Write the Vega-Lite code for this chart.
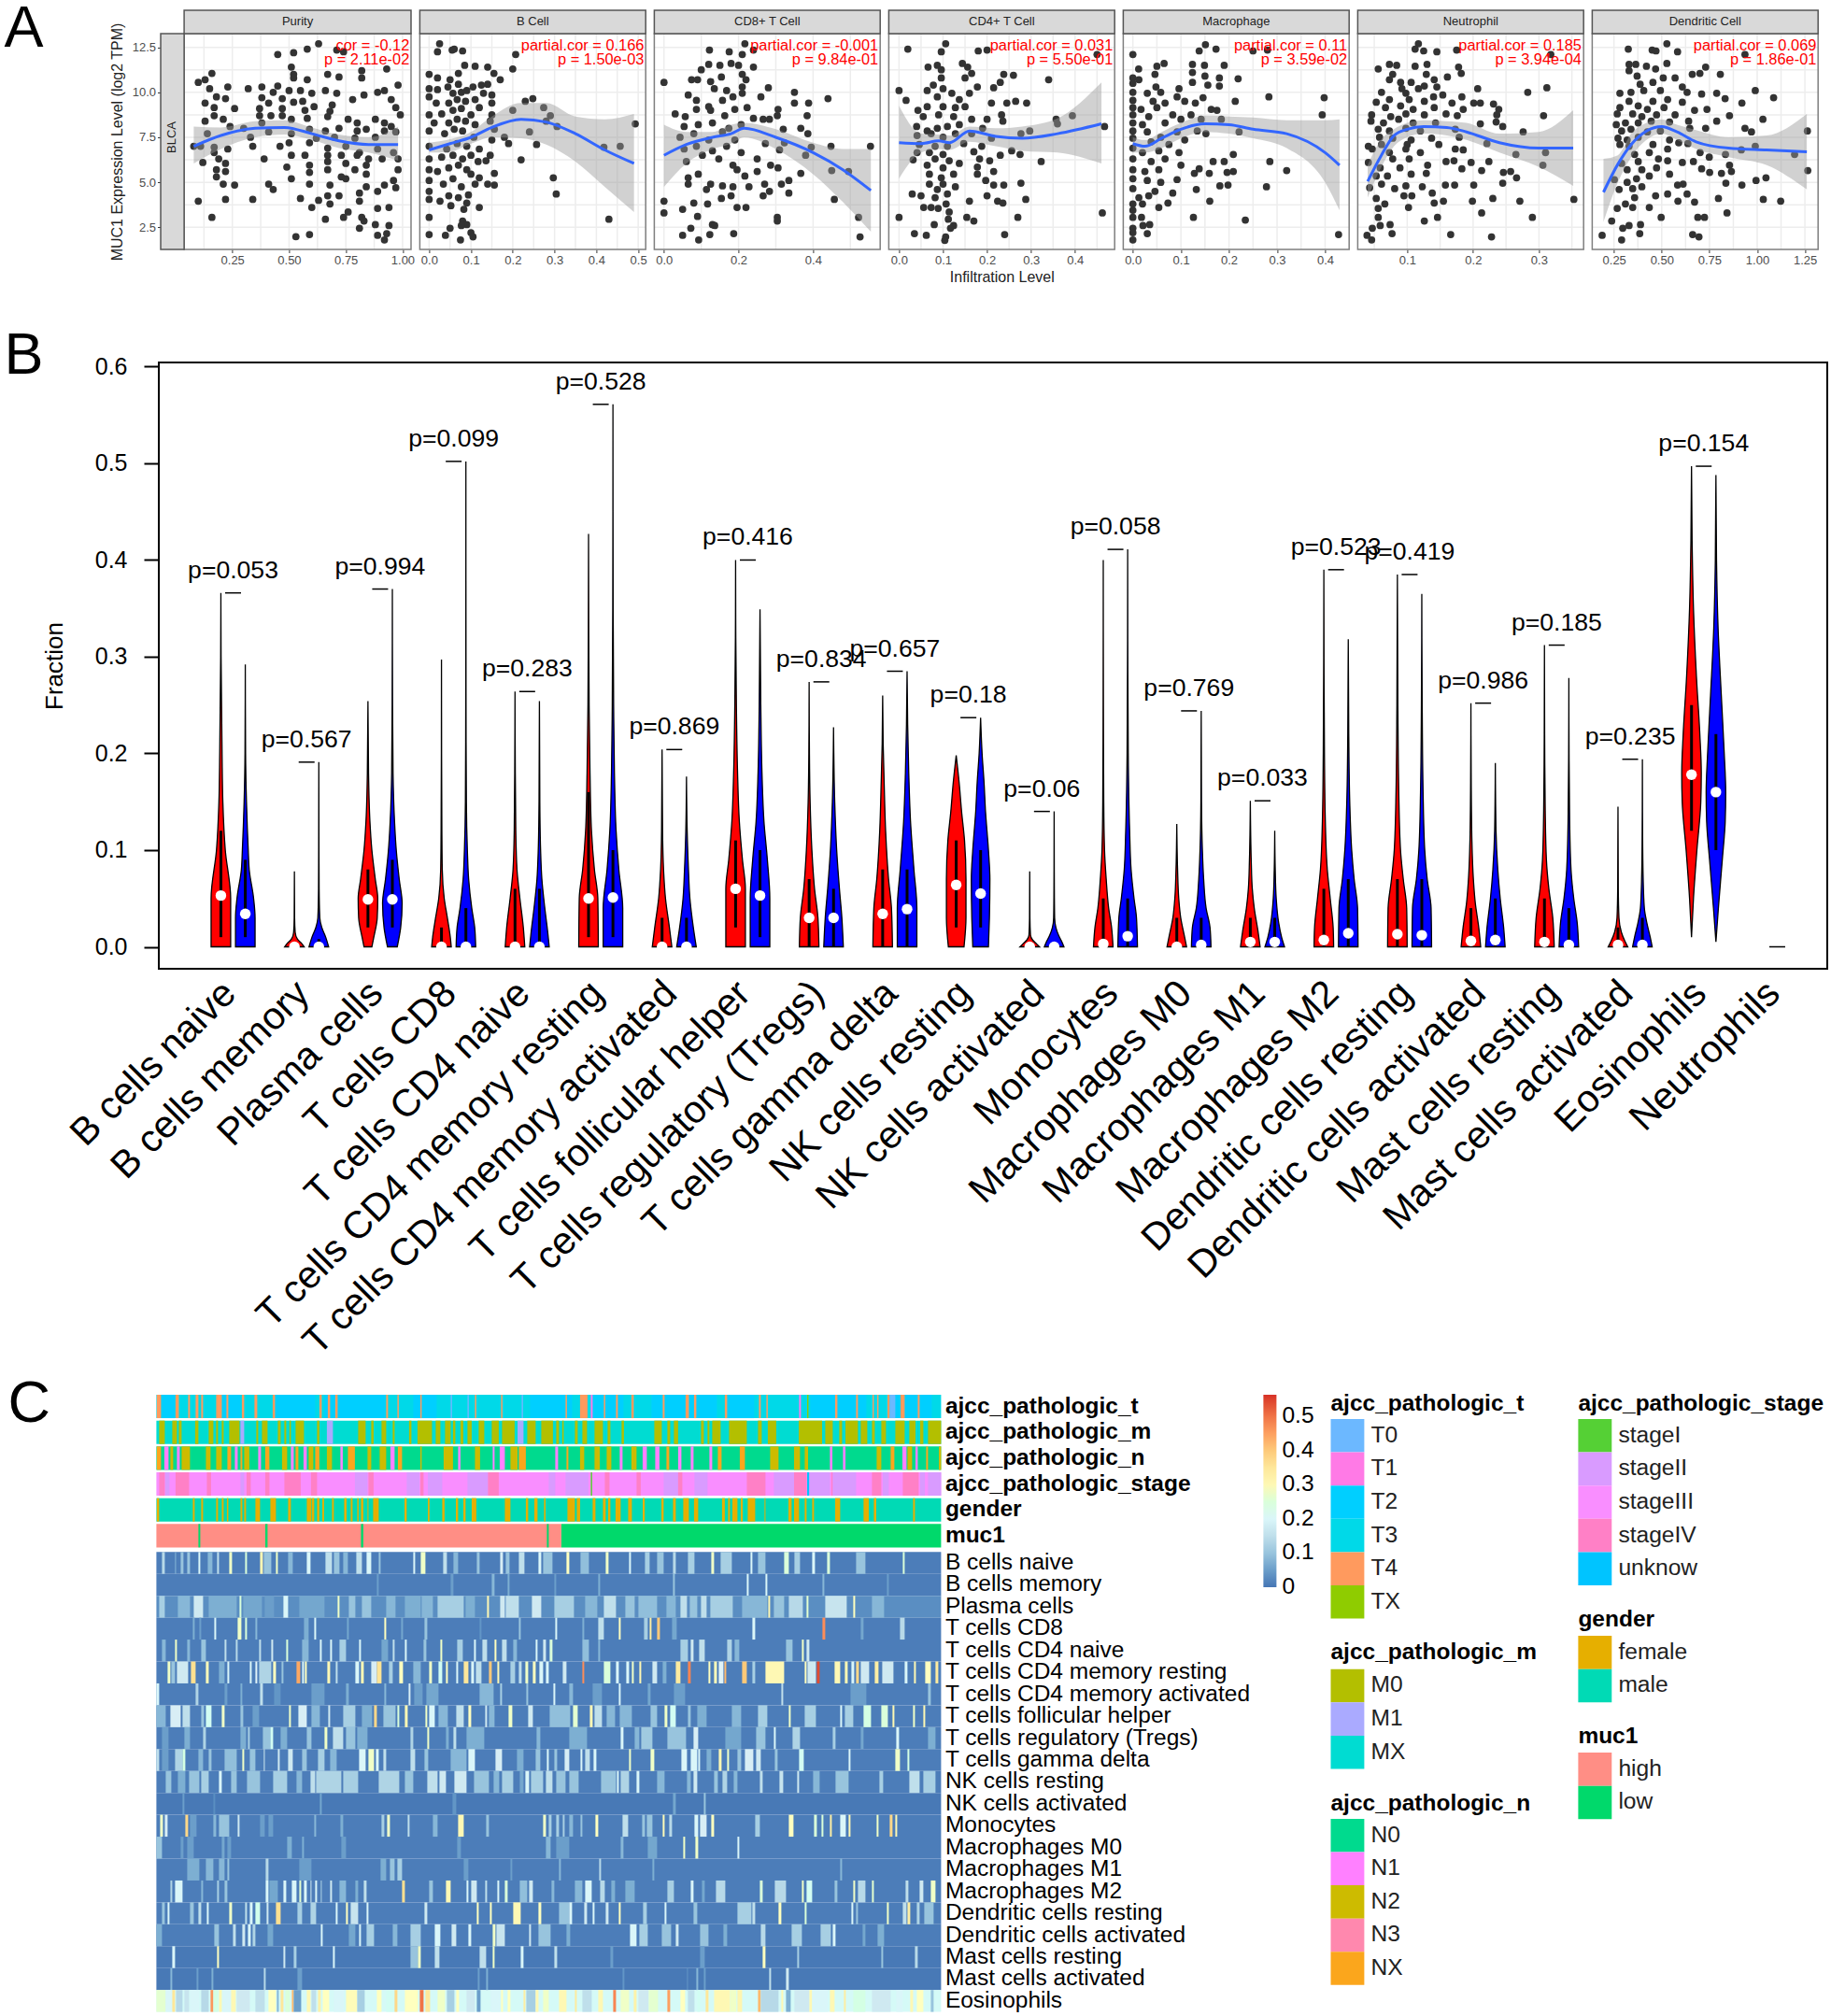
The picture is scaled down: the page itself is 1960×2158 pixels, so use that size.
{"$schema":"https://vega.github.io/schema/vega-lite/v6.json","padding":{"left":4.4,"top":0,"right":0,"bottom":0},"background":"white",
"config":{"font":"Liberation Sans","view":{"stroke":null},"axis":{"grid":false,"domain":false,"labelFontSize":13,"labelColor":"#4d4d4d","tickColor":"#333333","tickSize":3.5,"labelPadding":2,"labelOverlap":false,"labelBound":false,"labelFlush":false,"labelLimit":0,"titleFontWeight":"normal","titleColor":"#222222"},"circle":{"size":60,"color":"#333333","opacity":1}},
"datasets":{"gy":[{"y":2.5},{"y":3.75},{"y":5},{"y":6.25},{"y":7.5},{"y":8.75},{"y":10},{"y":11.25},{"y":12.5}],
"pts":[{"p":1,"x":0.63,"y":12.7},{"p":1,"x":0.58,"y":12.4},{"p":1,"x":0.52,"y":12.2},{"p":1,"x":0.45,"y":12.1},{"p":1,"x":0.71,"y":12.35},{"p":1,"x":0.74,"y":12.25},{"p":1,"x":0.51,"y":11.4},{"p":1,"x":0.52,"y":11},{"p":1,"x":0.52,"y":10.8},{"p":1,"x":0.58,"y":10.7},{"p":1,"x":0.67,"y":11},{"p":1,"x":0.72,"y":10.85},{"p":1,"x":0.82,"y":11.2},{"p":1,"x":0.82,"y":10.8},{"p":1,"x":0.93,"y":11.3},{"p":1,"x":0.98,"y":10.4},{"p":1,"x":0.16,"y":11.05},{"p":1,"x":0.1,"y":10.55},{"p":1,"x":0.13,"y":10.7},{"p":1,"x":0.23,"y":10.3},{"p":1,"x":0.32,"y":10.2},{"p":1,"x":0.38,"y":10.3},{"p":1,"x":0.45,"y":10.35},{"p":1,"x":0.55,"y":10.1},{"p":1,"x":0.15,"y":10.2},{"p":1,"x":0.43,"y":10},{"p":1,"x":0.5,"y":10.1},{"p":1,"x":0.6,"y":9.95},{"p":1,"x":0.66,"y":10.1},{"p":1,"x":0.71,"y":9.95},{"p":1,"x":0.83,"y":9.85},{"p":1,"x":0.89,"y":10},{"p":1,"x":0.92,"y":10.1},{"p":1,"x":0.18,"y":9.75},{"p":1,"x":0.22,"y":9.65},{"p":1,"x":0.13,"y":9.4},{"p":1,"x":0.38,"y":9.7},{"p":1,"x":0.41,"y":9.4},{"p":1,"x":0.47,"y":9.65},{"p":1,"x":0.52,"y":9.45},{"p":1,"x":0.56,"y":9.5},{"p":1,"x":0.61,"y":9.2},{"p":1,"x":0.69,"y":9.3},{"p":1,"x":0.78,"y":9.6},{"p":1,"x":0.95,"y":9.6},{"p":1,"x":0.97,"y":9.15},{"p":1,"x":0.17,"y":9.15},{"p":1,"x":0.26,"y":9.1},{"p":1,"x":0.37,"y":9.1},{"p":1,"x":0.47,"y":9.1},{"p":1,"x":0.57,"y":9},{"p":1,"x":0.68,"y":8.95},{"p":1,"x":0.76,"y":8.5},{"p":1,"x":0.99,"y":8.75},{"p":1,"x":0.13,"y":8.4},{"p":1,"x":0.17,"y":8.7},{"p":1,"x":0.21,"y":8.5},{"p":1,"x":0.37,"y":8.7},{"p":1,"x":0.42,"y":8.7},{"p":1,"x":0.47,"y":8.7},{"p":1,"x":0.58,"y":8.55},{"p":1,"x":0.67,"y":8.65},{"p":1,"x":0.8,"y":8.3},{"p":1,"x":0.88,"y":8.5},{"p":1,"x":0.92,"y":8.3},{"p":1,"x":0.95,"y":8.1},{"p":1,"x":0.24,"y":8.1},{"p":1,"x":0.3,"y":8},{"p":1,"x":0.38,"y":8.3},{"p":1,"x":0.51,"y":8.5},{"p":1,"x":0.59,"y":7.95},{"p":1,"x":0.66,"y":7.85},{"p":1,"x":0.72,"y":8},{"p":1,"x":0.8,"y":7.85},{"p":1,"x":0.84,"y":7.95},{"p":1,"x":0.92,"y":7.85},{"p":1,"x":0.14,"y":7.7},{"p":1,"x":0.33,"y":7.5},{"p":1,"x":0.41,"y":7.8},{"p":1,"x":0.51,"y":7.7},{"p":1,"x":0.62,"y":7.45},{"p":1,"x":0.7,"y":7.5},{"p":1,"x":0.79,"y":7.45},{"p":1,"x":0.88,"y":7.5},{"p":1,"x":0.97,"y":7.8},{"p":1,"x":0.08,"y":7},{"p":1,"x":0.11,"y":7},{"p":1,"x":0.17,"y":6.95},{"p":1,"x":0.34,"y":7},{"p":1,"x":0.46,"y":7},{"p":1,"x":0.5,"y":7.2},{"p":1,"x":0.59,"y":7.2},{"p":1,"x":0.67,"y":6.9},{"p":1,"x":0.75,"y":7},{"p":1,"x":0.81,"y":6.65},{"p":1,"x":0.89,"y":6.85},{"p":1,"x":0.96,"y":6.65},{"p":1,"x":0.17,"y":6.65},{"p":1,"x":0.23,"y":6.85},{"p":1,"x":0.51,"y":6.5},{"p":1,"x":0.57,"y":6.5},{"p":1,"x":0.67,"y":6.5},{"p":1,"x":0.73,"y":6.5},{"p":1,"x":0.8,"y":6.5},{"p":1,"x":0.85,"y":6.3},{"p":1,"x":0.91,"y":6.3},{"p":1,"x":0.98,"y":6.3},{"p":1,"x":0.12,"y":6.1},{"p":1,"x":0.19,"y":6.3},{"p":1,"x":0.22,"y":6.05},{"p":1,"x":0.39,"y":6.3},{"p":1,"x":0.49,"y":5.85},{"p":1,"x":0.59,"y":5.95},{"p":1,"x":0.67,"y":6.15},{"p":1,"x":0.75,"y":6.05},{"p":1,"x":0.84,"y":5.95},{"p":1,"x":0.98,"y":5.7},{"p":1,"x":0.18,"y":5.7},{"p":1,"x":0.22,"y":5.6},{"p":1,"x":0.59,"y":5.55},{"p":1,"x":0.67,"y":5.7},{"p":1,"x":0.73,"y":5.3},{"p":1,"x":0.79,"y":5.7},{"p":1,"x":0.84,"y":5.45},{"p":1,"x":0.96,"y":5.1},{"p":1,"x":0.18,"y":5.3},{"p":1,"x":0.51,"y":5.2},{"p":1,"x":0.59,"y":4.9},{"p":1,"x":0.68,"y":4.85},{"p":1,"x":0.75,"y":5.2},{"p":1,"x":0.21,"y":4.9},{"p":1,"x":0.26,"y":4.85},{"p":1,"x":0.41,"y":4.9},{"p":1,"x":0.43,"y":4.6},{"p":1,"x":0.84,"y":4.75},{"p":1,"x":0.92,"y":4.85},{"p":1,"x":0.97,"y":4.7},{"p":1,"x":0.81,"y":4.4},{"p":1,"x":0.89,"y":4.5},{"p":1,"x":0.72,"y":4.25},{"p":1,"x":0.67,"y":4.25},{"p":1,"x":0.55,"y":4.1},{"p":1,"x":0.22,"y":4.05},{"p":1,"x":0.34,"y":4.05},{"p":1,"x":0.1,"y":3.95},{"p":1,"x":0.63,"y":4},{"p":1,"x":0.68,"y":3.8},{"p":1,"x":0.81,"y":3.95},{"p":1,"x":0.94,"y":3.6},{"p":1,"x":0.89,"y":3.55},{"p":1,"x":0.6,"y":3.6},{"p":1,"x":0.76,"y":3.35},{"p":1,"x":0.16,"y":3.05},{"p":1,"x":0.66,"y":2.95},{"p":1,"x":0.74,"y":3.05},{"p":1,"x":0.82,"y":3.05},{"p":1,"x":0.83,"y":2.85},{"p":1,"x":0.88,"y":2.65},{"p":1,"x":0.94,"y":2.6},{"p":1,"x":0.81,"y":2.45},{"p":1,"x":0.59,"y":2.1},{"p":1,"x":0.53,"y":1.98},{"p":1,"x":0.89,"y":2.05},{"p":1,"x":0.93,"y":2.15},{"p":1,"x":0.92,"y":1.8},
{"p":2,"x":0.207,"y":12.1},{"p":2,"x":0.2,"y":11.3},{"p":2,"x":0.17,"y":10.7},{"p":2,"x":0.155,"y":11.05},{"p":2,"x":0.14,"y":11.4},{"p":2,"x":0.14,"y":10.45},{"p":2,"x":0.11,"y":11.45},{"p":2,"x":0.08,"y":12.3},{"p":2,"x":0.06,"y":12.4},{"p":2,"x":0.055,"y":12.35},{"p":2,"x":0.025,"y":12.7},{"p":2,"x":0.02,"y":12.25},{"p":2,"x":0,"y":11},{"p":2,"x":0.02,"y":10.8},{"p":2,"x":0.085,"y":11.5},{"p":2,"x":0.07,"y":11.05},{"p":2,"x":0.05,"y":10.7},{"p":2,"x":0.07,"y":10.45},{"p":2,"x":0.105,"y":10.3},{"p":2,"x":0.125,"y":10.4},{"p":2,"x":0,"y":10.2},{"p":2,"x":0.02,"y":10.15},{"p":2,"x":0.045,"y":10.3},{"p":2,"x":0.057,"y":9.95},{"p":2,"x":0.077,"y":10},{"p":2,"x":0.09,"y":10.1},{"p":2,"x":0.13,"y":9.95},{"p":2,"x":0.15,"y":9.85},{"p":2,"x":0,"y":9.75},{"p":2,"x":0.017,"y":9.4},{"p":2,"x":0.047,"y":9.4},{"p":2,"x":0.067,"y":9.6},{"p":2,"x":0.087,"y":9.5},{"p":2,"x":0.11,"y":9.6},{"p":2,"x":0.15,"y":9.4},{"p":2,"x":0.23,"y":9.5},{"p":2,"x":0.248,"y":9.65},{"p":2,"x":0.274,"y":9.15},{"p":2,"x":0.2,"y":9},{"p":2,"x":0.29,"y":8.7},{"p":2,"x":0.28,"y":8.4},{"p":2,"x":0.306,"y":8.1},{"p":2,"x":0.493,"y":8.25},{"p":2,"x":0.15,"y":8.75},{"p":2,"x":0,"y":8.75},{"p":2,"x":0.03,"y":8.8},{"p":2,"x":0.057,"y":9},{"p":2,"x":0.077,"y":9.1},{"p":2,"x":0.1,"y":8.75},{"p":2,"x":0.12,"y":9.15},{"p":2,"x":0.012,"y":8.3},{"p":2,"x":0.047,"y":8.3},{"p":2,"x":0.067,"y":8.5},{"p":2,"x":0.087,"y":8.4},{"p":2,"x":0.11,"y":8.2},{"p":2,"x":0.156,"y":7.95},{"p":2,"x":0,"y":7.85},{"p":2,"x":0.037,"y":7.7},{"p":2,"x":0.06,"y":7.95},{"p":2,"x":0.08,"y":7.85},{"p":2,"x":0.107,"y":7.5},{"p":2,"x":0.146,"y":8.4},{"p":2,"x":0.24,"y":7.8},{"p":2,"x":0.18,"y":7.5},{"p":2,"x":0.15,"y":7.35},{"p":2,"x":0.19,"y":7.15},{"p":2,"x":0.257,"y":7.1},{"p":2,"x":0.418,"y":6.95},{"p":2,"x":0.457,"y":7},{"p":2,"x":0,"y":7},{"p":2,"x":0.042,"y":6.85},{"p":2,"x":0.067,"y":7.15},{"p":2,"x":0.09,"y":7},{"p":2,"x":0.12,"y":6.85},{"p":2,"x":0,"y":6.3},{"p":2,"x":0.03,"y":6.4},{"p":2,"x":0.057,"y":6.5},{"p":2,"x":0.08,"y":6.3},{"p":2,"x":0.1,"y":6.5},{"p":2,"x":0.146,"y":6.5},{"p":2,"x":0.136,"y":6.2},{"p":2,"x":0.22,"y":6.25},{"p":2,"x":0,"y":5.7},{"p":2,"x":0.02,"y":5.6},{"p":2,"x":0.047,"y":5.8},{"p":2,"x":0.07,"y":5.95},{"p":2,"x":0.09,"y":5.7},{"p":2,"x":0.117,"y":6.15},{"p":2,"x":0.156,"y":5.5},{"p":2,"x":0.12,"y":5.25},{"p":2,"x":0.297,"y":5.25},{"p":2,"x":0,"y":5.1},{"p":2,"x":0.034,"y":4.9},{"p":2,"x":0.057,"y":5.2},{"p":2,"x":0.077,"y":4.75},{"p":2,"x":0.1,"y":5.45},{"p":2,"x":0.11,"y":4.9},{"p":2,"x":0.14,"y":4.9},{"p":2,"x":0.156,"y":4.85},{"p":2,"x":0,"y":4.5},{"p":2,"x":0,"y":4.05},{"p":2,"x":0.026,"y":3.95},{"p":2,"x":0.047,"y":4.25},{"p":2,"x":0.07,"y":4.15},{"p":2,"x":0.094,"y":4.3},{"p":2,"x":0.052,"y":3.7},{"p":2,"x":0.09,"y":3.85},{"p":2,"x":0.083,"y":3.5},{"p":2,"x":0.12,"y":3.6},{"p":2,"x":0.304,"y":4.35},{"p":2,"x":0,"y":3.05},{"p":2,"x":0.08,"y":2.85},{"p":2,"x":0.09,"y":2.65},{"p":2,"x":0.077,"y":2.6},{"p":2,"x":0.05,"y":2.45},{"p":2,"x":0.43,"y":2.95},{"p":2,"x":0,"y":2.1},{"p":2,"x":0.039,"y":2.05},{"p":2,"x":0.075,"y":1.8},{"p":2,"x":0.1,"y":2.2},{"p":2,"x":0.105,"y":1.97},
{"p":3,"x":0.217,"y":12.7},{"p":3,"x":0.122,"y":12.35},{"p":3,"x":0.175,"y":12.25},{"p":3,"x":0.24,"y":12.35},{"p":3,"x":0.21,"y":12.1},{"p":3,"x":0.1,"y":11.25},{"p":3,"x":0.12,"y":11.55},{"p":3,"x":0.15,"y":11.5},{"p":3,"x":0.18,"y":11.6},{"p":3,"x":0.2,"y":11.5},{"p":3,"x":0.24,"y":11.4},{"p":3,"x":0,"y":10.55},{"p":3,"x":0.074,"y":10.7},{"p":3,"x":0.09,"y":10.7},{"p":3,"x":0.125,"y":10.6},{"p":3,"x":0.154,"y":10.85},{"p":3,"x":0.21,"y":11},{"p":3,"x":0.22,"y":10.7},{"p":3,"x":0.135,"y":10.2},{"p":3,"x":0.168,"y":10.1},{"p":3,"x":0.21,"y":10.3},{"p":3,"x":0.28,"y":10.25},{"p":3,"x":0.35,"y":10},{"p":3,"x":0.065,"y":9.85},{"p":3,"x":0.087,"y":9.55},{"p":3,"x":0.12,"y":9.2},{"p":3,"x":0.157,"y":9.55},{"p":3,"x":0.185,"y":9.75},{"p":3,"x":0.21,"y":9.95},{"p":3,"x":0.26,"y":9.75},{"p":3,"x":0.35,"y":9.4},{"p":3,"x":0.388,"y":9.4},{"p":3,"x":0.44,"y":9.65},{"p":3,"x":0.03,"y":8.8},{"p":3,"x":0.057,"y":8.65},{"p":3,"x":0.087,"y":9.05},{"p":3,"x":0.125,"y":9},{"p":3,"x":0.163,"y":8.7},{"p":3,"x":0.19,"y":9.05},{"p":3,"x":0.223,"y":9.15},{"p":3,"x":0.24,"y":8.55},{"p":3,"x":0.306,"y":9.05},{"p":3,"x":0.304,"y":8.7},{"p":3,"x":0.384,"y":8.7},{"p":3,"x":0.266,"y":8.5},{"p":3,"x":0.283,"y":8.5},{"p":3,"x":0.054,"y":8.1},{"p":3,"x":0.092,"y":8.2},{"p":3,"x":0.13,"y":8.3},{"p":3,"x":0.174,"y":8},{"p":3,"x":0.207,"y":8.2},{"p":3,"x":0.367,"y":8},{"p":3,"x":0.32,"y":7.95},{"p":3,"x":0.386,"y":7.7},{"p":3,"x":0.043,"y":7.5},{"p":3,"x":0.08,"y":7.7},{"p":3,"x":0.12,"y":7.35},{"p":3,"x":0.157,"y":7.8},{"p":3,"x":0.19,"y":7.35},{"p":3,"x":0.272,"y":7.15},{"p":3,"x":0.323,"y":7.2},{"p":3,"x":0.448,"y":7},{"p":3,"x":0.554,"y":7},{"p":3,"x":0.395,"y":6.95},{"p":3,"x":0.054,"y":6.85},{"p":3,"x":0.087,"y":7},{"p":3,"x":0.13,"y":6.75},{"p":3,"x":0.168,"y":7},{"p":3,"x":0.207,"y":6.65},{"p":3,"x":0.31,"y":6.8},{"p":3,"x":0.38,"y":6.5},{"p":3,"x":0.06,"y":6.15},{"p":3,"x":0.103,"y":6.5},{"p":3,"x":0.147,"y":6.3},{"p":3,"x":0.185,"y":5.95},{"p":3,"x":0.25,"y":6.3},{"p":3,"x":0.286,"y":5.95},{"p":3,"x":0.306,"y":5.8},{"p":3,"x":0.45,"y":5.65},{"p":3,"x":0.495,"y":5.6},{"p":3,"x":0.065,"y":5.25},{"p":3,"x":0.092,"y":5.45},{"p":3,"x":0.125,"y":4.9},{"p":3,"x":0.157,"y":4.8},{"p":3,"x":0.196,"y":5.7},{"p":3,"x":0.217,"y":5.35},{"p":3,"x":0.25,"y":5.6},{"p":3,"x":0.367,"y":5.5},{"p":3,"x":0.065,"y":4.9},{"p":3,"x":0.114,"y":4.6},{"p":3,"x":0.185,"y":4.75},{"p":3,"x":0.228,"y":4.75},{"p":3,"x":0.27,"y":4.9},{"p":3,"x":0.315,"y":4.9},{"p":3,"x":0.335,"y":5.1},{"p":3,"x":0.335,"y":4.4},{"p":3,"x":0.266,"y":4.25},{"p":3,"x":0.283,"y":4.5},{"p":3,"x":0,"y":3.95},{"p":3,"x":0.08,"y":3.85},{"p":3,"x":0.117,"y":3.8},{"p":3,"x":0.154,"y":4.1},{"p":3,"x":0.18,"y":4.25},{"p":3,"x":0.196,"y":3.6},{"p":3,"x":0.22,"y":3.6},{"p":3,"x":0.457,"y":4.05},{"p":3,"x":0,"y":3.3},{"p":3,"x":0.05,"y":3.5},{"p":3,"x":0.09,"y":3.1},{"p":3,"x":0.304,"y":3.05},{"p":3,"x":0.304,"y":2.85},{"p":3,"x":0.522,"y":3.05},{"p":3,"x":0.13,"y":2.65},{"p":3,"x":0.136,"y":2.6},{"p":3,"x":0.072,"y":2.45},{"p":3,"x":0.05,"y":2.05},{"p":3,"x":0.123,"y":2.1},{"p":3,"x":0.187,"y":2.15},{"p":3,"x":0.093,"y":1.8},{"p":3,"x":0.526,"y":1.97},
{"p":4,"x":0.106,"y":12.7},{"p":4,"x":0.02,"y":12.4},{"p":4,"x":0.096,"y":12.25},{"p":4,"x":0.18,"y":12.3},{"p":4,"x":0.2,"y":12.35},{"p":4,"x":0.45,"y":12.1},{"p":4,"x":0.066,"y":11.4},{"p":4,"x":0.087,"y":11.5},{"p":4,"x":0.096,"y":11.25},{"p":4,"x":0.144,"y":11.6},{"p":4,"x":0.156,"y":11.4},{"p":4,"x":0.096,"y":10.8},{"p":4,"x":0.165,"y":11.05},{"p":4,"x":0.238,"y":11},{"p":4,"x":0.26,"y":10.95},{"p":4,"x":0.23,"y":10.55},{"p":4,"x":0.34,"y":10.7},{"p":4,"x":0,"y":10.1},{"p":4,"x":0.078,"y":10.4},{"p":4,"x":0.1,"y":10.2},{"p":4,"x":0.15,"y":10.8},{"p":4,"x":0.178,"y":10.3},{"p":4,"x":0.215,"y":10.25},{"p":4,"x":0.016,"y":9.55},{"p":4,"x":0.064,"y":10.1},{"p":4,"x":0.087,"y":9.75},{"p":4,"x":0.12,"y":9.95},{"p":4,"x":0.137,"y":9.6},{"p":4,"x":0.16,"y":9.95},{"p":4,"x":0.21,"y":9.4},{"p":4,"x":0.245,"y":9.4},{"p":4,"x":0.265,"y":9.5},{"p":4,"x":0.29,"y":9.4},{"p":4,"x":0.043,"y":9},{"p":4,"x":0.064,"y":9.2},{"p":4,"x":0.1,"y":9.2},{"p":4,"x":0.128,"y":9.15},{"p":4,"x":0.15,"y":9.2},{"p":4,"x":0.233,"y":8.75},{"p":4,"x":0.236,"y":8.4},{"p":4,"x":0.357,"y":8.5},{"p":4,"x":0.394,"y":8.7},{"p":4,"x":0.055,"y":8.65},{"p":4,"x":0.09,"y":8.75},{"p":4,"x":0.124,"y":8.65},{"p":4,"x":0.165,"y":8.5},{"p":4,"x":0.2,"y":8.5},{"p":4,"x":0.04,"y":8.1},{"p":4,"x":0.064,"y":7.85},{"p":4,"x":0.087,"y":8},{"p":4,"x":0.11,"y":8.1},{"p":4,"x":0.137,"y":8.2},{"p":4,"x":0.19,"y":8},{"p":4,"x":0.36,"y":8.25},{"p":4,"x":0.467,"y":8.1},{"p":4,"x":0.297,"y":7.85},{"p":4,"x":0.277,"y":7.7},{"p":4,"x":0.041,"y":7.6},{"p":4,"x":0.073,"y":7.7},{"p":4,"x":0.1,"y":7.5},{"p":4,"x":0.128,"y":7.7},{"p":4,"x":0.165,"y":7.7},{"p":4,"x":0.21,"y":7.45},{"p":4,"x":0.046,"y":7.1},{"p":4,"x":0.082,"y":7},{"p":4,"x":0.11,"y":7},{"p":4,"x":0.147,"y":7.15},{"p":4,"x":0.188,"y":7},{"p":4,"x":0.041,"y":6.65},{"p":4,"x":0.069,"y":6.65},{"p":4,"x":0.1,"y":6.55},{"p":4,"x":0.17,"y":6.7},{"p":4,"x":0.23,"y":6.5},{"p":4,"x":0.256,"y":6.75},{"p":4,"x":0.275,"y":6.55},{"p":4,"x":0.032,"y":6.25},{"p":4,"x":0.082,"y":6.3},{"p":4,"x":0.114,"y":6.2},{"p":4,"x":0.183,"y":6.3},{"p":4,"x":0.206,"y":6.2},{"p":4,"x":0.323,"y":6.15},{"p":4,"x":0.064,"y":5.95},{"p":4,"x":0.1,"y":5.8},{"p":4,"x":0.137,"y":6.05},{"p":4,"x":0.178,"y":5.85},{"p":4,"x":0.215,"y":5.6},{"p":4,"x":0.069,"y":5.45},{"p":4,"x":0.096,"y":5.25},{"p":4,"x":0.124,"y":5.45},{"p":4,"x":0.178,"y":5.45},{"p":4,"x":0.069,"y":4.9},{"p":4,"x":0.1,"y":4.9},{"p":4,"x":0.128,"y":4.75},{"p":4,"x":0.197,"y":5.1},{"p":4,"x":0.215,"y":4.85},{"p":4,"x":0.238,"y":4.85},{"p":4,"x":0.277,"y":4.95},{"p":4,"x":0.03,"y":4.35},{"p":4,"x":0.05,"y":4.25},{"p":4,"x":0.087,"y":4.6},{"p":4,"x":0.11,"y":4.35},{"p":4,"x":0.082,"y":4.15},{"p":4,"x":0.2,"y":4.25},{"p":4,"x":0.16,"y":3.95},{"p":4,"x":0.224,"y":3.95},{"p":4,"x":0.236,"y":3.85},{"p":4,"x":0.288,"y":4.05},{"p":4,"x":0.056,"y":3.6},{"p":4,"x":0.073,"y":3.6},{"p":4,"x":0.089,"y":3.55},{"p":4,"x":0.107,"y":3.8},{"p":4,"x":0.114,"y":3.35},{"p":4,"x":0,"y":3.05},{"p":4,"x":0.154,"y":3.05},{"p":4,"x":0.17,"y":2.85},{"p":4,"x":0.27,"y":3.05},{"p":4,"x":0.462,"y":3.3},{"p":4,"x":0.112,"y":2.95},{"p":4,"x":0.08,"y":2.65},{"p":4,"x":0.124,"y":2.6},{"p":4,"x":0.117,"y":2.45},{"p":4,"x":0.035,"y":2.15},{"p":4,"x":0.062,"y":2.05},{"p":4,"x":0.24,"y":2.1},{"p":4,"x":0.106,"y":1.97},{"p":4,"x":0.104,"y":1.77},
{"p":5,"x":0.151,"y":12.65},{"p":5,"x":0.138,"y":12.3},{"p":5,"x":0.173,"y":12.4},{"p":5,"x":0,"y":12.1},{"p":5,"x":0.25,"y":12.3},{"p":5,"x":0.28,"y":12.35},{"p":5,"x":0.05,"y":11.45},{"p":5,"x":0.065,"y":11.6},{"p":5,"x":0.012,"y":11.3},{"p":5,"x":0.124,"y":11.55},{"p":5,"x":0.149,"y":11.5},{"p":5,"x":0.19,"y":11.5},{"p":5,"x":0.124,"y":11.1},{"p":5,"x":0.15,"y":10.9},{"p":5,"x":0.18,"y":10.8},{"p":5,"x":0.046,"y":11},{"p":5,"x":0.219,"y":10.75},{"p":5,"x":0.124,"y":10.55},{"p":5,"x":0.156,"y":10.4},{"p":5,"x":0,"y":10.8},{"p":5,"x":0,"y":10.5},{"p":5,"x":0.0125,"y":10.7},{"p":5,"x":0.048,"y":10.3},{"p":5,"x":0.096,"y":10.2},{"p":5,"x":0.18,"y":10.35},{"p":5,"x":0,"y":10},{"p":5,"x":0.03,"y":9.95},{"p":5,"x":0.058,"y":10},{"p":5,"x":0.092,"y":9.75},{"p":5,"x":0.146,"y":9.7},{"p":5,"x":0.283,"y":9.75},{"p":5,"x":0.398,"y":9.7},{"p":5,"x":0,"y":9.55},{"p":5,"x":0.042,"y":9.5},{"p":5,"x":0.067,"y":9.4},{"p":5,"x":0.108,"y":9.5},{"p":5,"x":0.13,"y":9.4},{"p":5,"x":0.213,"y":9.5},{"p":5,"x":0,"y":9.15},{"p":5,"x":0.017,"y":9.05},{"p":5,"x":0.05,"y":9.15},{"p":5,"x":0.163,"y":9.05},{"p":5,"x":0.175,"y":9},{"p":5,"x":0.394,"y":8.75},{"p":5,"x":0,"y":8.75},{"p":5,"x":0.033,"y":8.65},{"p":5,"x":0.083,"y":8.75},{"p":5,"x":0.121,"y":8.75},{"p":5,"x":0,"y":8.3},{"p":5,"x":0.02,"y":8.2},{"p":5,"x":0.067,"y":8.3},{"p":5,"x":0.1,"y":8.5},{"p":5,"x":0.142,"y":8.5},{"p":5,"x":0.184,"y":8.5},{"p":5,"x":0,"y":7.85},{"p":5,"x":0.03,"y":7.8},{"p":5,"x":0.058,"y":7.5},{"p":5,"x":0.092,"y":7.8},{"p":5,"x":0.134,"y":7.85},{"p":5,"x":0.152,"y":7.7},{"p":5,"x":0.221,"y":7.8},{"p":5,"x":0,"y":7.45},{"p":5,"x":0.038,"y":7.25},{"p":5,"x":0.075,"y":7.1},{"p":5,"x":0.108,"y":7.35},{"p":5,"x":0,"y":6.9},{"p":5,"x":0.02,"y":6.65},{"p":5,"x":0.054,"y":6.75},{"p":5,"x":0.096,"y":6.65},{"p":5,"x":0.209,"y":6.55},{"p":5,"x":0,"y":6.3},{"p":5,"x":0.038,"y":6.15},{"p":5,"x":0.067,"y":6.3},{"p":5,"x":0.1,"y":5.95},{"p":5,"x":0.167,"y":6.15},{"p":5,"x":0.19,"y":6.15},{"p":5,"x":0.285,"y":6.15},{"p":5,"x":0.32,"y":5.65},{"p":5,"x":0,"y":5.7},{"p":5,"x":0.025,"y":5.6},{"p":5,"x":0.054,"y":5.7},{"p":5,"x":0.138,"y":5.75},{"p":5,"x":0.159,"y":5.5},{"p":5,"x":0.196,"y":5.55},{"p":5,"x":0.209,"y":5.6},{"p":5,"x":0.128,"y":5.5},{"p":5,"x":0,"y":5.2},{"p":5,"x":0.03,"y":5.1},{"p":5,"x":0.058,"y":5},{"p":5,"x":0.092,"y":5.15},{"p":5,"x":0,"y":4.65},{"p":5,"x":0.046,"y":4.5},{"p":5,"x":0.083,"y":4.4},{"p":5,"x":0.132,"y":4.6},{"p":5,"x":0.181,"y":4.8},{"p":5,"x":0.198,"y":4.85},{"p":5,"x":0.278,"y":4.75},{"p":5,"x":0.0125,"y":4.15},{"p":5,"x":0.033,"y":4.25},{"p":5,"x":0,"y":3.8},{"p":5,"x":0.02,"y":3.8},{"p":5,"x":0.054,"y":3.6},{"p":5,"x":0.073,"y":3.85},{"p":5,"x":0.16,"y":3.95},{"p":5,"x":0,"y":3.45},{"p":5,"x":0,"y":3.05},{"p":5,"x":0.018,"y":3.05},{"p":5,"x":0.126,"y":3.05},{"p":5,"x":0.234,"y":2.9},{"p":5,"x":0.021,"y":2.6},{"p":5,"x":0.035,"y":2.65},{"p":5,"x":0,"y":2.45},{"p":5,"x":0,"y":2.2},{"p":5,"x":0.03,"y":2.15},{"p":5,"x":0,"y":1.8},{"p":5,"x":0.428,"y":2.1},
{"p":6,"x":0.117,"y":12.7},{"p":6,"x":0.112,"y":12.4},{"p":6,"x":0.125,"y":12.3},{"p":6,"x":0.145,"y":12.25},{"p":6,"x":0.175,"y":12.35},{"p":6,"x":0.318,"y":12.1},{"p":6,"x":0.056,"y":11.3},{"p":6,"x":0.073,"y":11.55},{"p":6,"x":0.084,"y":11.5},{"p":6,"x":0.112,"y":11.45},{"p":6,"x":0.13,"y":11.55},{"p":6,"x":0.178,"y":11.4},{"p":6,"x":0.078,"y":11},{"p":6,"x":0.129,"y":11},{"p":6,"x":0.161,"y":10.85},{"p":6,"x":0.182,"y":11.05},{"p":6,"x":0.073,"y":10.7},{"p":6,"x":0.09,"y":10.55},{"p":6,"x":0.106,"y":10.55},{"p":6,"x":0.141,"y":10.7},{"p":6,"x":0.092,"y":10.2},{"p":6,"x":0.117,"y":10.2},{"p":6,"x":0.126,"y":10.35},{"p":6,"x":0.145,"y":10.3},{"p":6,"x":0.207,"y":10.2},{"p":6,"x":0.283,"y":10},{"p":6,"x":0.312,"y":10.25},{"p":6,"x":0.061,"y":10},{"p":6,"x":0.098,"y":9.95},{"p":6,"x":0.14,"y":9.75},{"p":6,"x":0.154,"y":9.85},{"p":6,"x":0.183,"y":9.75},{"p":6,"x":0.053,"y":9.45},{"p":6,"x":0.073,"y":9.6},{"p":6,"x":0.103,"y":9.6},{"p":6,"x":0.126,"y":9.5},{"p":6,"x":0.168,"y":9.4},{"p":6,"x":0.201,"y":9.4},{"p":6,"x":0.211,"y":9.4},{"p":6,"x":0.231,"y":9.35},{"p":6,"x":0.067,"y":9.15},{"p":6,"x":0.09,"y":9.25},{"p":6,"x":0.109,"y":9.05},{"p":6,"x":0.141,"y":9.15},{"p":6,"x":0.185,"y":9.05},{"p":6,"x":0.239,"y":9.05},{"p":6,"x":0.046,"y":8.75},{"p":6,"x":0.075,"y":8.65},{"p":6,"x":0.098,"y":8.8},{"p":6,"x":0.126,"y":8.75},{"p":6,"x":0.159,"y":8.8},{"p":6,"x":0.176,"y":8.7},{"p":6,"x":0.236,"y":8.75},{"p":6,"x":0.307,"y":8.7},{"p":6,"x":0.045,"y":8.4},{"p":6,"x":0.064,"y":8.3},{"p":6,"x":0.087,"y":8.5},{"p":6,"x":0.109,"y":8.3},{"p":6,"x":0.143,"y":8.3},{"p":6,"x":0.211,"y":8.25},{"p":6,"x":0.235,"y":8.35},{"p":6,"x":0.056,"y":7.95},{"p":6,"x":0.073,"y":7.85},{"p":6,"x":0.098,"y":8},{"p":6,"x":0.12,"y":7.85},{"p":6,"x":0.173,"y":7.95},{"p":6,"x":0.245,"y":8.1},{"p":6,"x":0.276,"y":7.8},{"p":6,"x":0.058,"y":7.5},{"p":6,"x":0.078,"y":7.45},{"p":6,"x":0.106,"y":7.35},{"p":6,"x":0.137,"y":7.45},{"p":6,"x":0.179,"y":7.5},{"p":6,"x":0.041,"y":7},{"p":6,"x":0.061,"y":7.1},{"p":6,"x":0.1,"y":7.1},{"p":6,"x":0.148,"y":7.1},{"p":6,"x":0.221,"y":7.15},{"p":6,"x":0.047,"y":6.85},{"p":6,"x":0.073,"y":6.65},{"p":6,"x":0.098,"y":6.85},{"p":6,"x":0.12,"y":6.65},{"p":6,"x":0.173,"y":6.85},{"p":6,"x":0.185,"y":6.8},{"p":6,"x":0.265,"y":6.55},{"p":6,"x":0.31,"y":6.65},{"p":6,"x":0.041,"y":6.1},{"p":6,"x":0.078,"y":6.3},{"p":6,"x":0.103,"y":6.3},{"p":6,"x":0.159,"y":6.15},{"p":6,"x":0.171,"y":6.2},{"p":6,"x":0.197,"y":6.1},{"p":6,"x":0.224,"y":6.15},{"p":6,"x":0.306,"y":5.95},{"p":6,"x":0.059,"y":5.8},{"p":6,"x":0.089,"y":5.8},{"p":6,"x":0.131,"y":5.95},{"p":6,"x":0.183,"y":5.75},{"p":6,"x":0.213,"y":5.65},{"p":6,"x":0.246,"y":5.55},{"p":6,"x":0.257,"y":5.6},{"p":6,"x":0.053,"y":5.35},{"p":6,"x":0.07,"y":5.35},{"p":6,"x":0.106,"y":5.45},{"p":6,"x":0.129,"y":5.5},{"p":6,"x":0.266,"y":5.25},{"p":6,"x":0.043,"y":4.7},{"p":6,"x":0.061,"y":4.9},{"p":6,"x":0.081,"y":4.65},{"p":6,"x":0.098,"y":4.8},{"p":6,"x":0.123,"y":4.75},{"p":6,"x":0.158,"y":4.85},{"p":6,"x":0.172,"y":4.85},{"p":6,"x":0.201,"y":4.85},{"p":6,"x":0.245,"y":4.95},{"p":6,"x":0.138,"y":4.4},{"p":6,"x":0.053,"y":4.1},{"p":6,"x":0.095,"y":4.25},{"p":6,"x":0.107,"y":4.25},{"p":6,"x":0.155,"y":3.95},{"p":6,"x":0.141,"y":3.85},{"p":6,"x":0.199,"y":3.95},{"p":6,"x":0.23,"y":4.1},{"p":6,"x":0.271,"y":3.95},{"p":6,"x":0.353,"y":4.05},{"p":6,"x":0.056,"y":3.55},{"p":6,"x":0.066,"y":3.8},{"p":6,"x":0.102,"y":3.6},{"p":6,"x":0.056,"y":3.05},{"p":6,"x":0.213,"y":3.3},{"p":6,"x":0.146,"y":3.05},{"p":6,"x":0.126,"y":2.85},{"p":6,"x":0.29,"y":3.05},{"p":6,"x":0.059,"y":2.6},{"p":6,"x":0.074,"y":2.65},{"p":6,"x":0.047,"y":2.45},{"p":6,"x":0.039,"y":2.05},{"p":6,"x":0.046,"y":1.8},{"p":6,"x":0.077,"y":2.15},{"p":6,"x":0.166,"y":2.1},{"p":6,"x":0.228,"y":1.97},
{"p":7,"x":0.527,"y":12.7},{"p":7,"x":0.325,"y":12.4},{"p":7,"x":0.45,"y":12.35},{"p":7,"x":0.47,"y":12.3},{"p":7,"x":0.583,"y":12.25},{"p":7,"x":0.936,"y":12.1},{"p":7,"x":0.329,"y":11.55},{"p":7,"x":0.364,"y":11.55},{"p":7,"x":0.42,"y":11.45},{"p":7,"x":0.468,"y":11.3},{"p":7,"x":0.527,"y":11.6},{"p":7,"x":0.73,"y":11.4},{"p":7,"x":0.329,"y":11.2},{"p":7,"x":0.371,"y":10.9},{"p":7,"x":0.66,"y":11},{"p":7,"x":0.7,"y":11.05},{"p":7,"x":0.807,"y":11},{"p":7,"x":0.508,"y":10.8},{"p":7,"x":0.57,"y":10.8},{"p":7,"x":0.387,"y":10.45},{"p":7,"x":0.454,"y":10.55},{"p":7,"x":0.608,"y":10.3},{"p":7,"x":0.281,"y":9.95},{"p":7,"x":0.339,"y":10},{"p":7,"x":0.406,"y":10.1},{"p":7,"x":0.493,"y":10.1},{"p":7,"x":0.633,"y":10},{"p":7,"x":0.709,"y":9.9},{"p":7,"x":0.788,"y":9.95},{"p":7,"x":0.99,"y":10.1},{"p":7,"x":1.086,"y":9.7},{"p":7,"x":0.832,"y":9.65},{"p":7,"x":0.329,"y":9.5},{"p":7,"x":0.377,"y":9.25},{"p":7,"x":0.454,"y":9.5},{"p":7,"x":0.531,"y":9.6},{"p":7,"x":0.608,"y":9.45},{"p":7,"x":0.92,"y":9.4},{"p":7,"x":0.737,"y":9.05},{"p":7,"x":0.281,"y":9.15},{"p":7,"x":0.425,"y":9.05},{"p":7,"x":0.512,"y":9.15},{"p":7,"x":0.672,"y":9},{"p":7,"x":0.267,"y":8.8},{"p":7,"x":0.348,"y":8.8},{"p":7,"x":0.396,"y":8.65},{"p":7,"x":0.473,"y":8.75},{"p":7,"x":0.57,"y":8.75},{"p":7,"x":0.855,"y":8.7},{"p":7,"x":0.262,"y":8.2},{"p":7,"x":0.31,"y":8.3},{"p":7,"x":0.377,"y":8.3},{"p":7,"x":0.445,"y":8.4},{"p":7,"x":0.541,"y":8.35},{"p":7,"x":0.641,"y":8.4},{"p":7,"x":0.788,"y":8.4},{"p":7,"x":1.03,"y":8.5},{"p":7,"x":0.29,"y":7.85},{"p":7,"x":0.339,"y":7.95},{"p":7,"x":0.425,"y":7.8},{"p":7,"x":0.493,"y":7.85},{"p":7,"x":0.647,"y":8},{"p":7,"x":0.73,"y":8},{"p":7,"x":0.936,"y":8},{"p":7,"x":0.97,"y":7.8},{"p":7,"x":1.263,"y":7.85},{"p":7,"x":0.271,"y":7.45},{"p":7,"x":0.319,"y":7.35},{"p":7,"x":0.377,"y":7.5},{"p":7,"x":0.541,"y":7.35},{"p":7,"x":0.589,"y":7.2},{"p":7,"x":0.637,"y":7.15},{"p":7,"x":0.281,"y":7.1},{"p":7,"x":0.329,"y":7},{"p":7,"x":0.454,"y":7.1},{"p":7,"x":0.531,"y":6.85},{"p":7,"x":0.701,"y":6.65},{"p":7,"x":0.99,"y":7},{"p":7,"x":0.917,"y":6.8},{"p":7,"x":0.834,"y":6.55},{"p":7,"x":1.196,"y":6.55},{"p":7,"x":0.358,"y":6.55},{"p":7,"x":0.435,"y":6.65},{"p":7,"x":0.483,"y":6.3},{"p":7,"x":0.749,"y":6.4},{"p":7,"x":0.29,"y":6.05},{"p":7,"x":0.377,"y":6.15},{"p":7,"x":0.531,"y":6.2},{"p":7,"x":0.666,"y":6.15},{"p":7,"x":0.608,"y":6.1},{"p":7,"x":0.855,"y":5.95},{"p":7,"x":0.709,"y":5.75},{"p":7,"x":0.319,"y":5.7},{"p":7,"x":0.396,"y":5.7},{"p":7,"x":0.473,"y":5.8},{"p":7,"x":0.751,"y":5.55},{"p":7,"x":0.865,"y":5.6},{"p":7,"x":1.265,"y":5.65},{"p":7,"x":0.813,"y":5.5},{"p":7,"x":0.252,"y":5.15},{"p":7,"x":0.319,"y":5},{"p":7,"x":0.368,"y":5.2},{"p":7,"x":0.435,"y":5.35},{"p":7,"x":0.541,"y":5.45},{"p":7,"x":1.046,"y":5.25},{"p":7,"x":0.994,"y":5.1},{"p":7,"x":0.836,"y":4.95},{"p":7,"x":0.92,"y":4.85},{"p":7,"x":0.583,"y":4.85},{"p":7,"x":0.612,"y":4.9},{"p":7,"x":0.277,"y":4.6},{"p":7,"x":0.348,"y":4.65},{"p":7,"x":0.396,"y":4.75},{"p":7,"x":0.531,"y":4.35},{"p":7,"x":0.468,"y":4.25},{"p":7,"x":0.633,"y":4.35},{"p":7,"x":0.358,"y":4.15},{"p":7,"x":0.585,"y":3.95},{"p":7,"x":0.672,"y":3.9},{"p":7,"x":0.797,"y":4.1},{"p":7,"x":1.032,"y":4.05},{"p":7,"x":1.123,"y":3.95},{"p":7,"x":0.31,"y":3.8},{"p":7,"x":0.267,"y":3.55},{"p":7,"x":0.348,"y":3.6},{"p":7,"x":0.435,"y":3.6},{"p":7,"x":0.842,"y":3.3},{"p":7,"x":0.497,"y":3.05},{"p":7,"x":0.689,"y":3.05},{"p":7,"x":0.724,"y":3.05},{"p":7,"x":0.238,"y":2.85},{"p":7,"x":0.389,"y":2.65},{"p":7,"x":0.329,"y":2.6},{"p":7,"x":0.296,"y":2.45},{"p":7,"x":0.385,"y":2.15},{"p":7,"x":0.662,"y":2.1},{"p":7,"x":0.695,"y":1.97},{"p":7,"x":0.188,"y":2.05},{"p":7,"x":0.29,"y":1.8}],
"sm":[{"p":1,"x":0.08,"y":7,"lo":6.05,"hi":8.1},{"p":1,"x":0.2,"y":7.6,"lo":6.85,"hi":8.05},{"p":1,"x":0.35,"y":8,"lo":7.5,"hi":8.4},{"p":1,"x":0.48,"y":8.05,"lo":7.65,"hi":8.45},{"p":1,"x":0.6,"y":7.7,"lo":7.35,"hi":8.05},{"p":1,"x":0.72,"y":7.3,"lo":6.9,"hi":7.65},{"p":1,"x":0.85,"y":7.1,"lo":6.65,"hi":7.5},{"p":1,"x":0.98,"y":7.1,"lo":6.2,"hi":8.1},
{"p":2,"x":0,"y":6.8,"lo":6.65,"hi":7.2},{"p":2,"x":0.05,"y":7.15,"lo":6.7,"hi":7.4},{"p":2,"x":0.1,"y":7.5,"lo":7.15,"hi":7.8},{"p":2,"x":0.15,"y":8.05,"lo":7.5,"hi":8.65},{"p":2,"x":0.22,"y":8.5,"lo":7.45,"hi":9.4},{"p":2,"x":0.28,"y":8.35,"lo":7.1,"hi":9.4},{"p":2,"x":0.35,"y":7.7,"lo":6.15,"hi":8.65},{"p":2,"x":0.42,"y":6.8,"lo":4.75,"hi":8.5},{"p":2,"x":0.49,"y":6.05,"lo":3.35,"hi":8.8},
{"p":3,"x":0,"y":6.5,"lo":4.75,"hi":8.2},{"p":3,"x":0.06,"y":7.1,"lo":6.05,"hi":7.8},{"p":3,"x":0.13,"y":7.5,"lo":6.85,"hi":7.8},{"p":3,"x":0.18,"y":7.7,"lo":7.15,"hi":8.2},{"p":3,"x":0.215,"y":8,"lo":7.5,"hi":8.3},{"p":3,"x":0.3,"y":7.5,"lo":6.85,"hi":7.95},{"p":3,"x":0.4,"y":6.65,"lo":5.45,"hi":7.2},{"p":3,"x":0.48,"y":5.7,"lo":3.9,"hi":6.85},{"p":3,"x":0.555,"y":4.55,"lo":2.25,"hi":6.85},
{"p":4,"x":0,"y":7.2,"lo":5.2,"hi":9.25},{"p":4,"x":0.05,"y":7.15,"lo":6.65,"hi":7.7},{"p":4,"x":0.09,"y":7.3,"lo":6.85,"hi":7.65},{"p":4,"x":0.115,"y":7.2,"lo":6.8,"hi":7.6},{"p":4,"x":0.16,"y":7.85,"lo":7.25,"hi":8.1},{"p":4,"x":0.22,"y":7.55,"lo":7,"hi":8},{"p":4,"x":0.28,"y":7.45,"lo":6.75,"hi":8.1},{"p":4,"x":0.36,"y":7.7,"lo":6.65,"hi":8.55},{"p":4,"x":0.46,"y":8.25,"lo":6.05,"hi":10.55},
{"p":5,"x":0,"y":7.15,"lo":6.65,"hi":7.5},{"p":5,"x":0.025,"y":7,"lo":6.65,"hi":7.35},{"p":5,"x":0.06,"y":7.45,"lo":6.9,"hi":7.8},{"p":5,"x":0.1,"y":7.95,"lo":7.45,"hi":8.3},{"p":5,"x":0.15,"y":8.25,"lo":7.8,"hi":8.7},{"p":5,"x":0.2,"y":8.2,"lo":7.7,"hi":8.65},{"p":5,"x":0.25,"y":7.95,"lo":7.45,"hi":8.6},{"p":5,"x":0.32,"y":7.7,"lo":6.9,"hi":8.45},{"p":5,"x":0.4,"y":6.65,"lo":5,"hi":8.45},{"p":5,"x":0.43,"y":5.95,"lo":3.45,"hi":8.5},
{"p":6,"x":0.04,"y":5.05,"lo":4.15,"hi":5.95},{"p":6,"x":0.06,"y":6.45,"lo":5.8,"hi":7.35},{"p":6,"x":0.08,"y":7.6,"lo":7,"hi":7.95},{"p":6,"x":0.1,"y":7.95,"lo":7.5,"hi":8.3},{"p":6,"x":0.125,"y":8.1,"lo":7.7,"hi":8.45},{"p":6,"x":0.16,"y":8.05,"lo":7.6,"hi":8.4},{"p":6,"x":0.19,"y":7.8,"lo":7.35,"hi":8.3},{"p":6,"x":0.24,"y":7.2,"lo":6.65,"hi":7.7},{"p":6,"x":0.3,"y":6.9,"lo":5.85,"hi":7.8},{"p":6,"x":0.352,"y":6.9,"lo":4.8,"hi":9},
{"p":7,"x":0.195,"y":4.45,"lo":2.8,"hi":6.3},{"p":7,"x":0.27,"y":6,"lo":5,"hi":6.5},{"p":7,"x":0.34,"y":7.1,"lo":6.4,"hi":7.7},{"p":7,"x":0.42,"y":7.85,"lo":7.35,"hi":8.3},{"p":7,"x":0.5,"y":8.1,"lo":7.7,"hi":8.5},{"p":7,"x":0.58,"y":7.8,"lo":7.35,"hi":8.2},{"p":7,"x":0.68,"y":7.25,"lo":6.85,"hi":7.9},{"p":7,"x":0.85,"y":6.9,"lo":6.4,"hi":7.5},{"p":7,"x":1.05,"y":6.8,"lo":5.95,"hi":7.6},{"p":7,"x":1.26,"y":6.7,"lo":4.6,"hi":8.8}],
"vio":[{"c":1,"g":"h","f":0,"w":1},{"c":1,"g":"h","f":0.05,"w":1},{"c":1,"g":"h","f":0.1,"w":0.45},{"c":1,"g":"h","f":0.15,"w":0.2},{"c":1,"g":"h","f":0.2,"w":0.12},{"c":1,"g":"h","f":0.3,"w":0.02},{"c":1,"g":"h","f":0.366,"w":0},{"c":1,"g":"l","f":0,"w":1},{"c":1,"g":"l","f":0.03,"w":1},{"c":1,"g":"l","f":0.05,"w":0.85},{"c":1,"g":"l","f":0.08,"w":0.4},{"c":1,"g":"l","f":0.1,"w":0.3},{"c":1,"g":"l","f":0.15,"w":0.12},{"c":1,"g":"l","f":0.2,"w":0.03},{"c":1,"g":"l","f":0.292,"w":0},
{"c":2,"g":"h","f":0,"w":1},{"c":2,"g":"h","f":0.004,"w":0.7},{"c":2,"g":"h","f":0.008,"w":0.3},{"c":2,"g":"h","f":0.015,"w":0.08},{"c":2,"g":"h","f":0.03,"w":0.02},{"c":2,"g":"h","f":0.078,"w":0},{"c":2,"g":"l","f":0,"w":1},{"c":2,"g":"l","f":0.01,"w":0.7},{"c":2,"g":"l","f":0.02,"w":0.3},{"c":2,"g":"l","f":0.03,"w":0.1},{"c":2,"g":"l","f":0.06,"w":0.03},{"c":2,"g":"l","f":0.1,"w":0.015},{"c":2,"g":"l","f":0.191,"w":0},
{"c":3,"g":"h","f":0,"w":0.4},{"c":3,"g":"h","f":0.01,"w":0.6},{"c":3,"g":"h","f":0.03,"w":0.95},{"c":3,"g":"h","f":0.05,"w":1},{"c":3,"g":"h","f":0.07,"w":0.75},{"c":3,"g":"h","f":0.1,"w":0.4},{"c":3,"g":"h","f":0.13,"w":0.2},{"c":3,"g":"h","f":0.18,"w":0.06},{"c":3,"g":"h","f":0.254,"w":0},{"c":3,"g":"l","f":0,"w":0.5},{"c":3,"g":"l","f":0.02,"w":0.85},{"c":3,"g":"l","f":0.045,"w":1},{"c":3,"g":"l","f":0.07,"w":0.7},{"c":3,"g":"l","f":0.1,"w":0.4},{"c":3,"g":"l","f":0.13,"w":0.22},{"c":3,"g":"l","f":0.18,"w":0.07},{"c":3,"g":"l","f":0.25,"w":0.02},{"c":3,"g":"l","f":0.37,"w":0},
{"c":4,"g":"h","f":0,"w":1},{"c":4,"g":"h","f":0.01,"w":0.9},{"c":4,"g":"h","f":0.03,"w":0.6},{"c":4,"g":"h","f":0.05,"w":0.28},{"c":4,"g":"h","f":0.08,"w":0.08},{"c":4,"g":"h","f":0.12,"w":0.04},{"c":4,"g":"h","f":0.2,"w":0.01},{"c":4,"g":"h","f":0.297,"w":0},{"c":4,"g":"l","f":0,"w":1},{"c":4,"g":"l","f":0.02,"w":0.9},{"c":4,"g":"l","f":0.04,"w":0.6},{"c":4,"g":"l","f":0.07,"w":0.28},{"c":4,"g":"l","f":0.1,"w":0.15},{"c":4,"g":"l","f":0.15,"w":0.05},{"c":4,"g":"l","f":0.25,"w":0.015},{"c":4,"g":"l","f":0.502,"w":0},
{"c":5,"g":"h","f":0,"w":1},{"c":5,"g":"h","f":0.02,"w":0.85},{"c":5,"g":"h","f":0.05,"w":0.5},{"c":5,"g":"h","f":0.08,"w":0.2},{"c":5,"g":"h","f":0.12,"w":0.08},{"c":5,"g":"h","f":0.18,"w":0.03},{"c":5,"g":"h","f":0.264,"w":0},{"c":5,"g":"l","f":0,"w":1},{"c":5,"g":"l","f":0.015,"w":0.85},{"c":5,"g":"l","f":0.04,"w":0.55},{"c":5,"g":"l","f":0.07,"w":0.25},{"c":5,"g":"l","f":0.1,"w":0.12},{"c":5,"g":"l","f":0.15,"w":0.04},{"c":5,"g":"l","f":0.254,"w":0},
{"c":6,"g":"h","f":0,"w":1},{"c":6,"g":"h","f":0.05,"w":0.95},{"c":6,"g":"h","f":0.08,"w":0.6},{"c":6,"g":"h","f":0.12,"w":0.3},{"c":6,"g":"h","f":0.18,"w":0.15},{"c":6,"g":"h","f":0.25,"w":0.06},{"c":6,"g":"h","f":0.33,"w":0.02},{"c":6,"g":"h","f":0.427,"w":0},{"c":6,"g":"l","f":0,"w":1},{"c":6,"g":"l","f":0.04,"w":1},{"c":6,"g":"l","f":0.08,"w":0.6},{"c":6,"g":"l","f":0.12,"w":0.32},{"c":6,"g":"l","f":0.18,"w":0.15},{"c":6,"g":"l","f":0.25,"w":0.07},{"c":6,"g":"l","f":0.35,"w":0.02},{"c":6,"g":"l","f":0.561,"w":0},
{"c":7,"g":"h","f":0,"w":1},{"c":7,"g":"h","f":0.02,"w":0.75},{"c":7,"g":"h","f":0.05,"w":0.35},{"c":7,"g":"h","f":0.08,"w":0.15},{"c":7,"g":"h","f":0.12,"w":0.05},{"c":7,"g":"h","f":0.204,"w":0},{"c":7,"g":"l","f":0,"w":1},{"c":7,"g":"l","f":0.02,"w":0.7},{"c":7,"g":"l","f":0.05,"w":0.35},{"c":7,"g":"l","f":0.08,"w":0.2},{"c":7,"g":"l","f":0.12,"w":0.07},{"c":7,"g":"l","f":0.176,"w":0},
{"c":8,"g":"h","f":0,"w":1},{"c":8,"g":"h","f":0.06,"w":1},{"c":8,"g":"h","f":0.09,"w":0.7},{"c":8,"g":"h","f":0.13,"w":0.38},{"c":8,"g":"h","f":0.18,"w":0.2},{"c":8,"g":"h","f":0.25,"w":0.08},{"c":8,"g":"h","f":0.32,"w":0.02},{"c":8,"g":"h","f":0.4,"w":0},{"c":8,"g":"l","f":0,"w":1},{"c":8,"g":"l","f":0.05,"w":1},{"c":8,"g":"l","f":0.09,"w":0.75},{"c":8,"g":"l","f":0.13,"w":0.4},{"c":8,"g":"l","f":0.18,"w":0.2},{"c":8,"g":"l","f":0.25,"w":0.08},{"c":8,"g":"l","f":0.349,"w":0},
{"c":9,"g":"h","f":0,"w":1},{"c":9,"g":"h","f":0.03,"w":0.9},{"c":9,"g":"h","f":0.06,"w":0.55},{"c":9,"g":"h","f":0.1,"w":0.28},{"c":9,"g":"h","f":0.15,"w":0.1},{"c":9,"g":"h","f":0.2,"w":0.03},{"c":9,"g":"h","f":0.274,"w":0},{"c":9,"g":"l","f":0,"w":1},{"c":9,"g":"l","f":0.03,"w":0.85},{"c":9,"g":"l","f":0.06,"w":0.6},{"c":9,"g":"l","f":0.1,"w":0.32},{"c":9,"g":"l","f":0.15,"w":0.12},{"c":9,"g":"l","f":0.227,"w":0},
{"c":10,"g":"h","f":0,"w":1},{"c":10,"g":"h","f":0.04,"w":0.9},{"c":10,"g":"h","f":0.07,"w":0.6},{"c":10,"g":"h","f":0.12,"w":0.3},{"c":10,"g":"h","f":0.17,"w":0.15},{"c":10,"g":"h","f":0.21,"w":0.05},{"c":10,"g":"h","f":0.26,"w":0},{"c":10,"g":"l","f":0,"w":1},{"c":10,"g":"l","f":0.04,"w":1},{"c":10,"g":"l","f":0.08,"w":0.7},{"c":10,"g":"l","f":0.13,"w":0.35},{"c":10,"g":"l","f":0.18,"w":0.17},{"c":10,"g":"l","f":0.23,"w":0.06},{"c":10,"g":"l","f":0.285,"w":0},
{"c":11,"g":"h","f":0,"w":0.8},{"c":11,"g":"h","f":0.03,"w":1},{"c":11,"g":"h","f":0.07,"w":1},{"c":11,"g":"h","f":0.11,"w":0.85},{"c":11,"g":"h","f":0.14,"w":0.55},{"c":11,"g":"h","f":0.17,"w":0.3},{"c":11,"g":"h","f":0.198,"w":0},{"c":11,"g":"l","f":0,"w":0.8},{"c":11,"g":"l","f":0.03,"w":0.9},{"c":11,"g":"l","f":0.07,"w":0.95},{"c":11,"g":"l","f":0.1,"w":0.8},{"c":11,"g":"l","f":0.14,"w":0.5},{"c":11,"g":"l","f":0.17,"w":0.35},{"c":11,"g":"l","f":0.2,"w":0.15},{"c":11,"g":"l","f":0.237,"w":0},
{"c":12,"g":"h","f":0,"w":1},{"c":12,"g":"h","f":0.003,"w":0.7},{"c":12,"g":"h","f":0.007,"w":0.3},{"c":12,"g":"h","f":0.012,"w":0.08},{"c":12,"g":"h","f":0.03,"w":0.02},{"c":12,"g":"h","f":0.078,"w":0},{"c":12,"g":"l","f":0,"w":1},{"c":12,"g":"l","f":0.006,"w":0.75},{"c":12,"g":"l","f":0.012,"w":0.45},{"c":12,"g":"l","f":0.02,"w":0.18},{"c":12,"g":"l","f":0.03,"w":0.05},{"c":12,"g":"l","f":0.06,"w":0.02},{"c":12,"g":"l","f":0.14,"w":0},
{"c":13,"g":"h","f":0,"w":1},{"c":13,"g":"h","f":0.02,"w":0.85},{"c":13,"g":"h","f":0.04,"w":0.55},{"c":13,"g":"h","f":0.07,"w":0.3},{"c":13,"g":"h","f":0.1,"w":0.13},{"c":13,"g":"h","f":0.15,"w":0.05},{"c":13,"g":"h","f":0.25,"w":0.015},{"c":13,"g":"h","f":0.4,"w":0},{"c":13,"g":"l","f":0,"w":1},{"c":13,"g":"l","f":0.03,"w":0.9},{"c":13,"g":"l","f":0.05,"w":0.65},{"c":13,"g":"l","f":0.08,"w":0.35},{"c":13,"g":"l","f":0.12,"w":0.2},{"c":13,"g":"l","f":0.2,"w":0.06},{"c":13,"g":"l","f":0.3,"w":0.015},{"c":13,"g":"l","f":0.411,"w":0},
{"c":14,"g":"h","f":0,"w":1},{"c":14,"g":"h","f":0.01,"w":0.8},{"c":14,"g":"h","f":0.03,"w":0.4},{"c":14,"g":"h","f":0.05,"w":0.2},{"c":14,"g":"h","f":0.08,"w":0.08},{"c":14,"g":"h","f":0.127,"w":0},{"c":14,"g":"l","f":0,"w":1},{"c":14,"g":"l","f":0.02,"w":0.9},{"c":14,"g":"l","f":0.04,"w":0.5},{"c":14,"g":"l","f":0.07,"w":0.25},{"c":14,"g":"l","f":0.1,"w":0.12},{"c":14,"g":"l","f":0.15,"w":0.03},{"c":14,"g":"l","f":0.244,"w":0},
{"c":15,"g":"h","f":0,"w":1},{"c":15,"g":"h","f":0.015,"w":0.8},{"c":15,"g":"h","f":0.04,"w":0.4},{"c":15,"g":"h","f":0.06,"w":0.2},{"c":15,"g":"h","f":0.09,"w":0.09},{"c":15,"g":"h","f":0.151,"w":0},{"c":15,"g":"l","f":0,"w":1},{"c":15,"g":"l","f":0.01,"w":0.7},{"c":15,"g":"l","f":0.025,"w":0.4},{"c":15,"g":"l","f":0.05,"w":0.15},{"c":15,"g":"l","f":0.08,"w":0.05},{"c":15,"g":"l","f":0.12,"w":0},
{"c":16,"g":"h","f":0,"w":1},{"c":16,"g":"h","f":0.02,"w":0.95},{"c":16,"g":"h","f":0.05,"w":0.65},{"c":16,"g":"h","f":0.08,"w":0.35},{"c":16,"g":"h","f":0.13,"w":0.15},{"c":16,"g":"h","f":0.2,"w":0.06},{"c":16,"g":"h","f":0.3,"w":0.015},{"c":16,"g":"h","f":0.39,"w":0},{"c":16,"g":"l","f":0,"w":1},{"c":16,"g":"l","f":0.04,"w":0.95},{"c":16,"g":"l","f":0.07,"w":0.6},{"c":16,"g":"l","f":0.1,"w":0.35},{"c":16,"g":"l","f":0.15,"w":0.15},{"c":16,"g":"l","f":0.22,"w":0.05},{"c":16,"g":"l","f":0.318,"w":0},
{"c":17,"g":"h","f":0,"w":1},{"c":17,"g":"h","f":0.04,"w":0.95},{"c":17,"g":"h","f":0.07,"w":0.6},{"c":17,"g":"h","f":0.1,"w":0.32},{"c":17,"g":"h","f":0.16,"w":0.14},{"c":17,"g":"h","f":0.25,"w":0.05},{"c":17,"g":"h","f":0.385,"w":0},{"c":17,"g":"l","f":0,"w":1},{"c":17,"g":"l","f":0.04,"w":0.95},{"c":17,"g":"l","f":0.07,"w":0.55},{"c":17,"g":"l","f":0.1,"w":0.3},{"c":17,"g":"l","f":0.16,"w":0.13},{"c":17,"g":"l","f":0.25,"w":0.04},{"c":17,"g":"l","f":0.365,"w":0},
{"c":18,"g":"h","f":0,"w":1},{"c":18,"g":"h","f":0.02,"w":0.8},{"c":18,"g":"h","f":0.045,"w":0.45},{"c":18,"g":"h","f":0.07,"w":0.25},{"c":18,"g":"h","f":0.11,"w":0.1},{"c":18,"g":"h","f":0.17,"w":0.03},{"c":18,"g":"h","f":0.252,"w":0},{"c":18,"g":"l","f":0,"w":1},{"c":18,"g":"l","f":0.02,"w":0.85},{"c":18,"g":"l","f":0.05,"w":0.5},{"c":18,"g":"l","f":0.08,"w":0.25},{"c":18,"g":"l","f":0.12,"w":0.07},{"c":18,"g":"l","f":0.19,"w":0},
{"c":19,"g":"h","f":0,"w":1},{"c":19,"g":"h","f":0.03,"w":0.85},{"c":19,"g":"h","f":0.06,"w":0.45},{"c":19,"g":"h","f":0.09,"w":0.2},{"c":19,"g":"h","f":0.14,"w":0.08},{"c":19,"g":"h","f":0.22,"w":0.02},{"c":19,"g":"h","f":0.312,"w":0},{"c":19,"g":"l","f":0,"w":1},{"c":19,"g":"l","f":0.025,"w":0.85},{"c":19,"g":"l","f":0.05,"w":0.5},{"c":19,"g":"l","f":0.08,"w":0.22},{"c":19,"g":"l","f":0.13,"w":0.08},{"c":19,"g":"l","f":0.2,"w":0.02},{"c":19,"g":"l","f":0.278,"w":0},
{"c":20,"g":"h","f":0,"w":1},{"c":20,"g":"h","f":0.006,"w":0.7},{"c":20,"g":"h","f":0.015,"w":0.35},{"c":20,"g":"h","f":0.03,"w":0.1},{"c":20,"g":"h","f":0.06,"w":0.03},{"c":20,"g":"h","f":0.145,"w":0},{"c":20,"g":"l","f":0,"w":1},{"c":20,"g":"l","f":0.01,"w":0.8},{"c":20,"g":"l","f":0.025,"w":0.45},{"c":20,"g":"l","f":0.04,"w":0.2},{"c":20,"g":"l","f":0.07,"w":0.08},{"c":20,"g":"l","f":0.12,"w":0.02},{"c":20,"g":"l","f":0.194,"w":0},
{"c":21,"g":"h","f":0.01,"w":0},{"c":21,"g":"h","f":0.05,"w":0.2},{"c":21,"g":"h","f":0.1,"w":0.55},{"c":21,"g":"h","f":0.15,"w":0.95},{"c":21,"g":"h","f":0.18,"w":1},{"c":21,"g":"h","f":0.22,"w":0.85},{"c":21,"g":"h","f":0.28,"w":0.5},{"c":21,"g":"h","f":0.35,"w":0.2},{"c":21,"g":"h","f":0.42,"w":0.06},{"c":21,"g":"h","f":0.497,"w":0},{"c":21,"g":"l","f":0.005,"w":0},{"c":21,"g":"l","f":0.04,"w":0.25},{"c":21,"g":"l","f":0.09,"w":0.65},{"c":21,"g":"l","f":0.13,"w":0.95},{"c":21,"g":"l","f":0.16,"w":1},{"c":21,"g":"l","f":0.2,"w":0.85},{"c":21,"g":"l","f":0.26,"w":0.55},{"c":21,"g":"l","f":0.33,"w":0.22},{"c":21,"g":"l","f":0.4,"w":0.06},{"c":21,"g":"l","f":0.488,"w":0}],
"vs":[{"c":1,"g":"h","q1":0.01,"q3":0.12,"m":0.053},{"c":1,"g":"l","q1":0.01,"q3":0.09,"m":0.034},{"c":2,"g":"h","q1":0,"q3":0.004,"m":0},{"c":2,"g":"l","q1":0,"q3":0.008,"m":0},{"c":3,"g":"h","q1":0.02,"q3":0.08,"m":0.049},{"c":3,"g":"l","q1":0.02,"q3":0.09,"m":0.049},{"c":4,"g":"h","q1":0,"q3":0.02,"m":0},{"c":4,"g":"l","q1":0,"q3":0.04,"m":0},{"c":5,"g":"h","q1":0,"q3":0.06,"m":0},{"c":5,"g":"l","q1":0,"q3":0.06,"m":0},{"c":6,"g":"h","q1":0.01,"q3":0.16,"m":0.05},{"c":6,"g":"l","q1":0.01,"q3":0.1,"m":0.051},{"c":7,"g":"h","q1":0,"q3":0.03,"m":0},{"c":7,"g":"l","q1":0,"q3":0.03,"m":0},{"c":8,"g":"h","q1":0.02,"q3":0.11,"m":0.06},{"c":8,"g":"l","q1":0.01,"q3":0.1,"m":0.053},{"c":9,"g":"h","q1":0,"q3":0.07,"m":0.03},{"c":9,"g":"l","q1":0,"q3":0.06,"m":0.03},{"c":10,"g":"h","q1":0,"q3":0.08,"m":0.034},{"c":10,"g":"l","q1":0,"q3":0.08,"m":0.039},{"c":11,"g":"h","q1":0.02,"q3":0.11,"m":0.064},{"c":11,"g":"l","q1":0.02,"q3":0.1,"m":0.055},{"c":12,"g":"h","q1":0,"q3":0.002,"m":0},{"c":12,"g":"l","q1":0,"q3":0.005,"m":0},{"c":13,"g":"h","q1":0,"q3":0.05,"m":0.003},{"c":13,"g":"l","q1":0,"q3":0.05,"m":0.011},{"c":14,"g":"h","q1":0,"q3":0.03,"m":0},{"c":14,"g":"l","q1":0,"q3":0.03,"m":0.002},{"c":15,"g":"h","q1":0,"q3":0.03,"m":0.005},{"c":15,"g":"l","q1":0,"q3":0.03,"m":0.005},{"c":16,"g":"h","q1":0,"q3":0.06,"m":0.007},{"c":16,"g":"l","q1":0,"q3":0.07,"m":0.014},{"c":17,"g":"h","q1":0,"q3":0.07,"m":0.013},{"c":17,"g":"l","q1":0,"q3":0.07,"m":0.012},{"c":18,"g":"h","q1":0,"q3":0.04,"m":0.006},{"c":18,"g":"l","q1":0,"q3":0.05,"m":0.007},{"c":19,"g":"h","q1":0,"q3":0.05,"m":0.005},{"c":19,"g":"l","q1":0,"q3":0.04,"m":0.002},{"c":20,"g":"h","q1":0,"q3":0.02,"m":0.002},{"c":20,"g":"l","q1":0,"q3":0.03,"m":0.002},{"c":21,"g":"h","q1":0.12,"q3":0.25,"m":0.178},{"c":21,"g":"l","q1":0.1,"q3":0.22,"m":0.16}],
"pv":[{"c":1,"m":0.366,"t":"p=0.053"},{"c":2,"m":0.191,"t":"p=0.567"},{"c":3,"m":0.37,"t":"p=0.994"},{"c":4,"m":0.502,"t":"p=0.099"},{"c":5,"m":0.264,"t":"p=0.283"},{"c":6,"m":0.561,"t":"p=0.528"},{"c":7,"m":0.204,"t":"p=0.869"},{"c":8,"m":0.4,"t":"p=0.416"},{"c":9,"m":0.274,"t":"p=0.834"},{"c":10,"m":0.285,"t":"p=0.657"},{"c":11,"m":0.237,"t":"p=0.18"},{"c":12,"m":0.14,"t":"p=0.06"},{"c":13,"m":0.411,"t":"p=0.058"},{"c":14,"m":0.244,"t":"p=0.769"},{"c":15,"m":0.151,"t":"p=0.033"},{"c":16,"m":0.39,"t":"p=0.523"},{"c":17,"m":0.385,"t":"p=0.419"},{"c":18,"m":0.252,"t":"p=0.986"},{"c":19,"m":0.312,"t":"p=0.185"},{"c":20,"m":0.194,"t":"p=0.235"},{"c":21,"m":0.497,"t":"p=0.154"},{"c":22,"m":0,"t":""}],
"ann":[{"t":1,"a":0,"b":840,"c":"T3"},{"t":1,"a":5,"b":20,"c":"T2"},{"t":1,"a":70,"b":90,"c":"T2"},{"t":1,"a":125,"b":170,"c":"T2"},{"t":1,"a":180,"b":245,"c":"T2"},{"t":1,"a":275,"b":300,"c":"T2"},{"t":1,"a":400,"b":445,"c":"T2"},{"t":1,"a":465,"b":500,"c":"T2"},{"t":1,"a":530,"b":600,"c":"T2"},{"t":1,"a":610,"b":640,"c":"T2"},{"t":1,"a":700,"b":760,"c":"T2"},{"t":1,"a":790,"b":830,"c":"T2"},{"t":1,"a":0.5,"b":5,"c":"T4"},{"t":1,"a":20.5,"b":24,"c":"T4"},{"t":1,"a":34,"b":36,"c":"T4"},{"t":1,"a":42,"b":45,"c":"T4"},{"t":1,"a":48,"b":50,"c":"T4"},{"t":1,"a":64,"b":70,"c":"T4"},{"t":1,"a":75,"b":77,"c":"T4"},{"t":1,"a":91.5,"b":94,"c":"T4"},{"t":1,"a":105,"b":108,"c":"T4"},{"t":1,"a":124.5,"b":127,"c":"T4"},{"t":1,"a":174.5,"b":177,"c":"T4"},{"t":1,"a":183.5,"b":186,"c":"T4"},{"t":1,"a":191.5,"b":194,"c":"T4"},{"t":1,"a":246,"b":248,"c":"T4"},{"t":1,"a":258,"b":259.5,"c":"T4"},{"t":1,"a":282.5,"b":284,"c":"T4"},{"t":1,"a":315,"b":316.5,"c":"T0"},{"t":1,"a":333,"b":334.5,"c":"T0"},{"t":1,"a":341,"b":342.5,"c":"T4"},{"t":1,"a":369,"b":370.5,"c":"T4"},{"t":1,"a":391,"b":392.5,"c":"T0"},{"t":1,"a":438,"b":439.5,"c":"T4"},{"t":1,"a":453.5,"b":461.5,"c":"T4"},{"t":1,"a":465,"b":467,"c":"T1"},{"t":1,"a":479,"b":480.5,"c":"T4"},{"t":1,"a":492,"b":494,"c":"T4"},{"t":1,"a":508.5,"b":511,"c":"T4"},{"t":1,"a":542,"b":544,"c":"T4"},{"t":1,"a":566.5,"b":570,"c":"T4"},{"t":1,"a":575.5,"b":578,"c":"T4"},{"t":1,"a":608.5,"b":611,"c":"T4"},{"t":1,"a":645,"b":647,"c":"T4"},{"t":1,"a":653,"b":654.5,"c":"T4"},{"t":1,"a":688,"b":690,"c":"T1"},{"t":1,"a":696.6,"b":698,"c":"TX"},{"t":1,"a":726.6,"b":729,"c":"T4"},{"t":1,"a":749,"b":751,"c":"T4"},{"t":1,"a":766.6,"b":768,"c":"T4"},{"t":1,"a":771.6,"b":773,"c":"T4"},{"t":1,"a":782.6,"b":785,"c":"T4"},{"t":1,"a":785,"b":791,"c":"T0"},{"t":1,"a":796.6,"b":801,"c":"T4"},{"t":1,"a":815,"b":817,"c":"T4"},
{"t":2,"a":0,"b":840,"c":"MX"},{"t":2,"a":3,"b":9,"c":"M0"},{"t":2,"a":17,"b":22,"c":"M0"},{"t":2,"a":24,"b":27,"c":"M0"},{"t":2,"a":41.5,"b":45,"c":"M0"},{"t":2,"a":56,"b":61,"c":"M0"},{"t":2,"a":64,"b":66,"c":"M0"},{"t":2,"a":70,"b":72,"c":"M0"},{"t":2,"a":78,"b":89,"c":"M0"},{"t":2,"a":90,"b":94,"c":"M1"},{"t":2,"a":107,"b":109,"c":"M0"},{"t":2,"a":113,"b":119,"c":"M0"},{"t":2,"a":130,"b":133,"c":"M0"},{"t":2,"a":137,"b":139,"c":"M0"},{"t":2,"a":142.5,"b":144,"c":"M0"},{"t":2,"a":149,"b":158,"c":"M0"},{"t":2,"a":172,"b":174.5,"c":"M0"},{"t":2,"a":182.5,"b":189,"c":"M1"},{"t":2,"a":216,"b":224,"c":"M0"},{"t":2,"a":230,"b":232.5,"c":"M0"},{"t":2,"a":241,"b":246,"c":"M0"},{"t":2,"a":253,"b":255,"c":"M0"},{"t":2,"a":270.5,"b":273,"c":"M0"},{"t":2,"a":279.5,"b":295,"c":"M0"},{"t":2,"a":299,"b":304,"c":"M0"},{"t":2,"a":309,"b":315,"c":"M0"},{"t":2,"a":317.5,"b":320,"c":"M0"},{"t":2,"a":325.5,"b":328.5,"c":"M0"},{"t":2,"a":333,"b":337.5,"c":"M0"},{"t":2,"a":345,"b":351,"c":"M0"},{"t":2,"a":359,"b":366.5,"c":"M0"},{"t":2,"a":370,"b":383.5,"c":"M0"},{"t":2,"a":386.6,"b":393,"c":"M1"},{"t":2,"a":397,"b":406,"c":"M0"},{"t":2,"a":412,"b":424.5,"c":"M0"},{"t":2,"a":428,"b":431,"c":"M0"},{"t":2,"a":434.5,"b":436,"c":"M0"},{"t":2,"a":448,"b":451,"c":"M0"},{"t":2,"a":456,"b":461,"c":"M0"},{"t":2,"a":469,"b":478,"c":"M0"},{"t":2,"a":483,"b":486,"c":"M0"},{"t":2,"a":498,"b":500.5,"c":"M0"},{"t":2,"a":533,"b":541,"c":"M0"},{"t":2,"a":547,"b":550,"c":"M0"},{"t":2,"a":554,"b":558.5,"c":"M0"},{"t":2,"a":583,"b":586,"c":"M0"},{"t":2,"a":590,"b":592,"c":"M0"},{"t":2,"a":595,"b":604,"c":"M0"},{"t":2,"a":613,"b":632,"c":"M0"},{"t":2,"a":644,"b":648,"c":"M0"},{"t":2,"a":654.5,"b":663.5,"c":"M0"},{"t":2,"a":687.6,"b":712.6,"c":"M0"},{"t":2,"a":716,"b":724,"c":"M0"},{"t":2,"a":731,"b":734,"c":"M0"},{"t":2,"a":737.6,"b":751,"c":"M0"},{"t":2,"a":754,"b":761,"c":"M0"},{"t":2,"a":766,"b":769,"c":"M0"},{"t":2,"a":776,"b":781,"c":"M0"},{"t":2,"a":791,"b":801,"c":"M0"},{"t":2,"a":806,"b":812.6,"c":"M0"},{"t":2,"a":817.6,"b":821,"c":"M0"},{"t":2,"a":826,"b":840,"c":"M0"},
{"t":3,"a":0,"b":840,"c":"N0"},{"t":3,"a":0.5,"b":5,"c":"NX"},{"t":3,"a":8.5,"b":13,"c":"N1"},{"t":3,"a":15,"b":18,"c":"N2"},{"t":3,"a":22,"b":25,"c":"N1"},{"t":3,"a":27,"b":36,"c":"N2"},{"t":3,"a":53,"b":58,"c":"N2"},{"t":3,"a":64,"b":70,"c":"N2"},{"t":3,"a":76,"b":80,"c":"NX"},{"t":3,"a":84,"b":87,"c":"N1"},{"t":3,"a":90,"b":92,"c":"NX"},{"t":3,"a":94,"b":99.5,"c":"N2"},{"t":3,"a":109,"b":112,"c":"N1"},{"t":3,"a":116.5,"b":121,"c":"NX"},{"t":3,"a":134.5,"b":140,"c":"N2"},{"t":3,"a":144,"b":147,"c":"N1"},{"t":3,"a":149,"b":152,"c":"NX"},{"t":3,"a":157.5,"b":161,"c":"N1"},{"t":3,"a":163,"b":168,"c":"N2"},{"t":3,"a":170,"b":174.5,"c":"NX"},{"t":3,"a":182.5,"b":188,"c":"N2"},{"t":3,"a":197,"b":199.5,"c":"N1"},{"t":3,"a":205,"b":212.5,"c":"NX"},{"t":3,"a":226,"b":230,"c":"N2"},{"t":3,"a":239,"b":246,"c":"N2"},{"t":3,"a":250.5,"b":255,"c":"N1"},{"t":3,"a":258.5,"b":263,"c":"NX"},{"t":3,"a":282.5,"b":284,"c":"N2"},{"t":3,"a":307.5,"b":317.5,"c":"N2"},{"t":3,"a":323,"b":325.5,"c":"N1"},{"t":3,"a":341,"b":346.5,"c":"N2"},{"t":3,"a":360,"b":362,"c":"N1"},{"t":3,"a":367.5,"b":373,"c":"N1"},{"t":3,"a":379,"b":386.6,"c":"N2"},{"t":3,"a":388,"b":395.5,"c":"NX"},{"t":3,"a":427,"b":430,"c":"N1"},{"t":3,"a":439,"b":441,"c":"NX"},{"t":3,"a":453.5,"b":458,"c":"N2"},{"t":3,"a":469,"b":474.6,"c":"N2"},{"t":3,"a":482,"b":487,"c":"N2"},{"t":3,"a":496,"b":499,"c":"N1"},{"t":3,"a":508.5,"b":514,"c":"N2"},{"t":3,"a":520.5,"b":525,"c":"N1"},{"t":3,"a":534,"b":538.5,"c":"N1"},{"t":3,"a":546,"b":549,"c":"NX"},{"t":3,"a":558.5,"b":562,"c":"N1"},{"t":3,"a":572,"b":575,"c":"N1"},{"t":3,"a":592,"b":595,"c":"N1"},{"t":3,"a":601,"b":605,"c":"NX"},{"t":3,"a":624.5,"b":630,"c":"NX"},{"t":3,"a":657,"b":666,"c":"N2"},{"t":3,"a":682.6,"b":689,"c":"N2"},{"t":3,"a":694,"b":697.6,"c":"N2"},{"t":3,"a":721,"b":723.6,"c":"N1"},{"t":3,"a":735,"b":737.6,"c":"N1"},{"t":3,"a":771,"b":776,"c":"N2"},{"t":3,"a":786,"b":790,"c":"NX"},{"t":3,"a":798.6,"b":803,"c":"N1"},{"t":3,"a":804,"b":809,"c":"N2"},{"t":3,"a":812.6,"b":815,"c":"N1"},{"t":3,"a":824,"b":826,"c":"NX"},{"t":3,"a":837.6,"b":840,"c":"N2"},
{"t":4,"a":0,"b":840,"c":"stageIII"},{"t":4,"a":3,"b":9,"c":"stageIV"},{"t":4,"a":9.5,"b":14,"c":"stageII"},{"t":4,"a":20.5,"b":35,"c":"stageIV"},{"t":4,"a":54,"b":58.5,"c":"stageIV"},{"t":4,"a":90,"b":94,"c":"stageII"},{"t":4,"a":96.5,"b":101,"c":"stageIV"},{"t":4,"a":116.5,"b":121,"c":"stageIV"},{"t":4,"a":137,"b":154.5,"c":"stageIV"},{"t":4,"a":165.5,"b":172,"c":"stageIV"},{"t":4,"a":212.5,"b":226,"c":"stageII"},{"t":4,"a":227,"b":232.5,"c":"stageIV"},{"t":4,"a":268,"b":281.6,"c":"stageII"},{"t":4,"a":282.6,"b":286,"c":"stageIV"},{"t":4,"a":290.6,"b":306,"c":"stageII"},{"t":4,"a":333,"b":355,"c":"stageII"},{"t":4,"a":355,"b":366.5,"c":"stageIV"},{"t":4,"a":420,"b":427,"c":"stageII"},{"t":4,"a":438,"b":462.5,"c":"stageII"},{"t":4,"a":465,"b":466.5,"c":"stageI"},{"t":4,"a":480,"b":485,"c":"stageIV"},{"t":4,"a":514,"b":518.5,"c":"stageIV"},{"t":4,"a":543,"b":558.5,"c":"stageII"},{"t":4,"a":558.5,"b":563,"c":"stageIV"},{"t":4,"a":576,"b":590,"c":"stageII"},{"t":4,"a":632,"b":652,"c":"stageIV"},{"t":4,"a":661,"b":682.6,"c":"stageII"},{"t":4,"a":682.6,"b":696,"c":"stageIV"},{"t":4,"a":696.6,"b":699,"c":"unknow"},{"t":4,"a":699,"b":721,"c":"stageII"},{"t":4,"a":722.6,"b":724,"c":"stageIV"},{"t":4,"a":724,"b":749,"c":"stageII"},{"t":4,"a":766,"b":776,"c":"stageIV"},{"t":4,"a":777.6,"b":784,"c":"stageII"},{"t":4,"a":799,"b":816,"c":"stageIV"},{"t":4,"a":817.6,"b":822.6,"c":"stageII"},{"t":4,"a":826,"b":840,"c":"stageII"},
{"t":5,"a":0,"b":840,"c":"male"},{"t":5,"a":0.5,"b":3,"c":"female"},{"t":5,"a":39,"b":41,"c":"female"},{"t":5,"a":48,"b":50,"c":"female"},{"t":5,"a":64,"b":66,"c":"female"},{"t":5,"a":70,"b":72,"c":"female"},{"t":5,"a":75.5,"b":77,"c":"female"},{"t":5,"a":90,"b":92,"c":"female"},{"t":5,"a":94,"b":96,"c":"female"},{"t":5,"a":106,"b":111,"c":"female"},{"t":5,"a":122,"b":128,"c":"female"},{"t":5,"a":141,"b":144,"c":"female"},{"t":5,"a":161,"b":166,"c":"female"},{"t":5,"a":166.6,"b":169,"c":"female"},{"t":5,"a":172,"b":174.5,"c":"female"},{"t":5,"a":177.6,"b":179.5,"c":"female"},{"t":5,"a":188,"b":190,"c":"female"},{"t":5,"a":201,"b":203.6,"c":"female"},{"t":5,"a":208,"b":210,"c":"female"},{"t":5,"a":215,"b":216.5,"c":"female"},{"t":5,"a":219,"b":221.5,"c":"female"},{"t":5,"a":226,"b":227,"c":"female"},{"t":5,"a":232,"b":238,"c":"female"},{"t":5,"a":265.6,"b":268,"c":"female"},{"t":5,"a":290.6,"b":292.4,"c":"female"},{"t":5,"a":306,"b":308.5,"c":"female"},{"t":5,"a":320.6,"b":323,"c":"female"},{"t":5,"a":328.6,"b":331,"c":"female"},{"t":5,"a":337.5,"b":342.5,"c":"female"},{"t":5,"a":373,"b":379,"c":"female"},{"t":5,"a":395.5,"b":398,"c":"female"},{"t":5,"a":404.5,"b":408,"c":"female"},{"t":5,"a":415,"b":416.6,"c":"female"},{"t":5,"a":440,"b":448,"c":"female"},{"t":5,"a":450,"b":453.6,"c":"female"},{"t":5,"a":467,"b":470,"c":"female"},{"t":5,"a":478,"b":481,"c":"female"},{"t":5,"a":483.6,"b":486,"c":"female"},{"t":5,"a":491.5,"b":497,"c":"female"},{"t":5,"a":505,"b":509,"c":"female"},{"t":5,"a":520.6,"b":522.8,"c":"female"},{"t":5,"a":540.6,"b":543,"c":"female"},{"t":5,"a":553,"b":556,"c":"female"},{"t":5,"a":564,"b":570,"c":"female"},{"t":5,"a":575.5,"b":580,"c":"female"},{"t":5,"a":605.5,"b":608.5,"c":"female"},{"t":5,"a":612,"b":614,"c":"female"},{"t":5,"a":616.5,"b":622,"c":"female"},{"t":5,"a":625.5,"b":627.6,"c":"female"},{"t":5,"a":633,"b":641,"c":"female"},{"t":5,"a":651,"b":652,"c":"female"},{"t":5,"a":676.6,"b":680,"c":"female"},{"t":5,"a":682.6,"b":688,"c":"female"},{"t":5,"a":694,"b":696,"c":"female"},{"t":5,"a":702,"b":704,"c":"female"},{"t":5,"a":726.6,"b":732,"c":"female"},{"t":5,"a":757,"b":762.6,"c":"female"},{"t":5,"a":768,"b":770.6,"c":"female"},{"t":5,"a":810,"b":812,"c":"female"},
{"t":6,"a":0,"b":433.5,"c":"high"},{"t":6,"a":433.5,"b":840,"c":"low"},{"t":6,"a":45,"b":47,"c":"low"},{"t":6,"a":116.5,"b":119,"c":"low"},{"t":6,"a":219,"b":221.5,"c":"low"},{"t":6,"a":418,"b":420,"c":"low"}],
"hm":[{"r":1,"a":0,"b":840,"v":0.01},{"r":2,"a":0,"b":840,"v":0.01},{"r":3,"a":0,"b":840,"v":0.03},{"r":4,"a":0,"b":840,"v":0.01},{"r":5,"a":0,"b":840,"v":0.01},{"r":6,"a":0,"b":840,"v":0.01},{"r":7,"a":0,"b":840,"v":0.01},{"r":8,"a":0,"b":840,"v":0.01},{"r":9,"a":0,"b":840,"v":0.01},{"r":10,"a":0,"b":840,"v":0.01},{"r":11,"a":0,"b":840,"v":0.01},{"r":12,"a":0,"b":840,"v":0.005},{"r":13,"a":0,"b":840,"v":0.01},{"r":14,"a":0,"b":840,"v":0.01},{"r":15,"a":0,"b":840,"v":0.01},{"r":16,"a":0,"b":840,"v":0.01},{"r":17,"a":0,"b":840,"v":0.01},{"r":18,"a":0,"b":840,"v":0.01},{"r":19,"a":0,"b":840,"v":0.005},{"r":20,"a":0,"b":840,"v":0.005},{"r":21,"a":0,"b":840,"v":0.21},
{"r":1,"a":6,"b":9,"v":0.14},{"r":1,"a":20,"b":21,"v":0.08},{"r":1,"a":26,"b":29,"v":0.1},{"r":1,"a":33,"b":36,"v":0.1},{"r":1,"a":45,"b":47,"v":0.2},{"r":1,"a":55,"b":60,"v":0.08},{"r":1,"a":65,"b":67,"v":0.15},{"r":1,"a":78,"b":81,"v":0.27},{"r":1,"a":95,"b":97,"v":0.25},{"r":1,"a":111,"b":114,"v":0.3},{"r":1,"a":115,"b":123,"v":0.1},{"r":1,"a":128,"b":130,"v":0.27},{"r":1,"a":141,"b":146,"v":0.08},{"r":1,"a":161,"b":165,"v":0.2},{"r":1,"a":181,"b":188,"v":0.15},{"r":1,"a":190,"b":196,"v":0.1},{"r":1,"a":200,"b":205,"v":0.08},{"r":1,"a":214,"b":220,"v":0.15},{"r":1,"a":225,"b":230,"v":0.2},{"r":1,"a":238,"b":240,"v":0.1},{"r":1,"a":275,"b":277,"v":0.2},{"r":1,"a":283,"b":288,"v":0.27},{"r":1,"a":307,"b":311,"v":0.15},{"r":1,"a":318,"b":323,"v":0.08},{"r":1,"a":343,"b":346,"v":0.1},{"r":1,"a":368,"b":371,"v":0.18},{"r":1,"a":374,"b":378,"v":0.1},{"r":1,"a":388,"b":394,"v":0.15},{"r":1,"a":409,"b":412,"v":0.2},{"r":1,"a":414,"b":424,"v":0.1},{"r":1,"a":439,"b":442,"v":0.28},{"r":1,"a":454,"b":463,"v":0.09},{"r":1,"a":481,"b":484,"v":0.27},{"r":1,"a":506,"b":508,"v":0.2},{"r":1,"a":523,"b":528,"v":0.12},{"r":1,"a":536,"b":543,"v":0.1},{"r":1,"a":553,"b":556,"v":0.14},{"r":1,"a":569,"b":576,"v":0.12},{"r":1,"a":594,"b":597,"v":0.27},{"r":1,"a":604,"b":616,"v":0.12},{"r":1,"a":636,"b":638,"v":0.2},{"r":1,"a":644,"b":652,"v":0.1},{"r":1,"a":672,"b":677,"v":0.25},{"r":1,"a":683,"b":689,"v":0.12},{"r":1,"a":702,"b":705,"v":0.2},{"r":1,"a":718,"b":721,"v":0.25},{"r":1,"a":749,"b":759,"v":0.1},{"r":1,"a":799,"b":801,"v":0.25},
{"r":2,"a":236,"b":238,"v":0.05},{"r":2,"a":315,"b":318,"v":0.05},{"r":2,"a":359,"b":362,"v":0.08},{"r":2,"a":376,"b":378,"v":0.07},{"r":2,"a":426,"b":428,"v":0.05},{"r":2,"a":473,"b":475,"v":0.07},{"r":2,"a":553,"b":555,"v":0.1},{"r":2,"a":632,"b":634,"v":0.2},{"r":2,"a":652,"b":654,"v":0.2},{"r":2,"a":713,"b":715,"v":0.08},{"r":2,"a":782,"b":784,"v":0.05},
{"r":3,"a":3,"b":9,"v":0.12},{"r":3,"a":23,"b":36,"v":0.08},{"r":3,"a":40,"b":50,"v":0.17},{"r":3,"a":56,"b":86,"v":0.07},{"r":3,"a":89,"b":91,"v":0.25},{"r":3,"a":93,"b":113,"v":0.06},{"r":3,"a":116,"b":126,"v":0.05},{"r":3,"a":136,"b":141,"v":0.2},{"r":3,"a":153,"b":180,"v":0.06},{"r":3,"a":194,"b":196,"v":0.27},{"r":3,"a":206,"b":213,"v":0.1},{"r":3,"a":220,"b":230,"v":0.1},{"r":3,"a":246,"b":256,"v":0.08},{"r":3,"a":266,"b":283,"v":0.07},{"r":3,"a":284,"b":296,"v":0.08},{"r":3,"a":301,"b":329,"v":0.12},{"r":3,"a":331,"b":341,"v":0.07},{"r":3,"a":354,"b":356,"v":0.3},{"r":3,"a":368,"b":373,"v":0.17},{"r":3,"a":374,"b":388,"v":0.15},{"r":3,"a":402,"b":412,"v":0.17},{"r":3,"a":426,"b":447,"v":0.12},{"r":3,"a":459,"b":472,"v":0.08},{"r":3,"a":479,"b":492,"v":0.15},{"r":3,"a":502,"b":512,"v":0.1},{"r":3,"a":516,"b":536,"v":0.09},{"r":3,"a":546,"b":556,"v":0.08},{"r":3,"a":561,"b":568,"v":0.15},{"r":3,"a":571,"b":579,"v":0.1},{"r":3,"a":583,"b":589,"v":0.15},{"r":3,"a":593,"b":617,"v":0.12},{"r":3,"a":627,"b":654,"v":0.08},{"r":3,"a":655,"b":657,"v":0.3},{"r":3,"a":661,"b":672,"v":0.1},{"r":3,"a":677,"b":692,"v":0.14},{"r":3,"a":696,"b":698,"v":0.26},{"r":3,"a":716,"b":739,"v":0.16},{"r":3,"a":746,"b":748,"v":0.28},{"r":3,"a":766,"b":779,"v":0.08},
{"r":4,"a":39,"b":41,"v":0.07},{"r":4,"a":46,"b":48,"v":0.05},{"r":4,"a":62,"b":64,"v":0.2},{"r":4,"a":87,"b":91,"v":0.27},{"r":4,"a":95,"b":97,"v":0.25},{"r":4,"a":106,"b":108,"v":0.08},{"r":4,"a":158,"b":163,"v":0.07},{"r":4,"a":169,"b":171,"v":0.2},{"r":4,"a":204,"b":206,"v":0.06},{"r":4,"a":244,"b":246,"v":0.28},{"r":4,"a":262,"b":264,"v":0.06},{"r":4,"a":287,"b":290,"v":0.1},{"r":4,"a":346,"b":348,"v":0.04},{"r":4,"a":388,"b":390,"v":0.1},{"r":4,"a":427,"b":429,"v":0.2},{"r":4,"a":456,"b":458,"v":0.07},{"r":4,"a":473,"b":479,"v":0.15},{"r":4,"a":495,"b":497,"v":0.28},{"r":4,"a":522,"b":526,"v":0.12},{"r":4,"a":528,"b":530,"v":0.33},{"r":4,"a":536,"b":539,"v":0.4},{"r":4,"a":552,"b":557,"v":0.06},{"r":4,"a":638,"b":641,"v":0.2},{"r":4,"a":713,"b":716,"v":0.47},{"r":4,"a":754,"b":757,"v":0.06},{"r":4,"a":796,"b":801,"v":0.14},
{"r":5,"a":6,"b":10,"v":0.08},{"r":5,"a":20,"b":22,"v":0.27},{"r":5,"a":33,"b":36,"v":0.08},{"r":5,"a":48,"b":53,"v":0.1},{"r":5,"a":73,"b":75,"v":0.15},{"r":5,"a":85,"b":87,"v":0.14},{"r":5,"a":110,"b":112,"v":0.15},{"r":5,"a":123,"b":125,"v":0.17},{"r":5,"a":139,"b":141,"v":0.25},{"r":5,"a":156,"b":163,"v":0.08},{"r":5,"a":175,"b":177,"v":0.2},{"r":5,"a":186,"b":188,"v":0.2},{"r":5,"a":196,"b":203,"v":0.12},{"r":5,"a":217,"b":219,"v":0.2},{"r":5,"a":241,"b":248,"v":0.06},{"r":5,"a":253,"b":255,"v":0.15},{"r":5,"a":266,"b":268,"v":0.2},{"r":5,"a":286,"b":289,"v":0.1},{"r":5,"a":304,"b":306,"v":0.27},{"r":5,"a":322,"b":328,"v":0.12},{"r":5,"a":340,"b":342,"v":0.2},{"r":5,"a":349,"b":354,"v":0.15},{"r":5,"a":362,"b":364,"v":0.28},{"r":5,"a":370,"b":375,"v":0.15},{"r":5,"a":382,"b":386,"v":0.08},{"r":5,"a":406,"b":408,"v":0.2},{"r":5,"a":414,"b":417,"v":0.17},{"r":5,"a":421,"b":424,"v":0.25},{"r":5,"a":456,"b":463,"v":0.09},{"r":5,"a":473,"b":475,"v":0.08},{"r":5,"a":561,"b":569,"v":0.12},{"r":5,"a":572,"b":575,"v":0.17},{"r":5,"a":581,"b":587,"v":0.15},{"r":5,"a":611,"b":616,"v":0.13},{"r":5,"a":619,"b":624,"v":0.08},{"r":5,"a":674,"b":681,"v":0.1},{"r":5,"a":691,"b":693,"v":0.27},{"r":5,"a":696,"b":699,"v":0.17},
{"r":6,"a":12,"b":15,"v":0.27},{"r":6,"a":16,"b":20,"v":0.1},{"r":6,"a":22,"b":34,"v":0.17},{"r":6,"a":37,"b":42,"v":0.37},{"r":6,"a":53,"b":56,"v":0.29},{"r":6,"a":67,"b":73,"v":0.07},{"r":6,"a":76,"b":78,"v":0.2},{"r":6,"a":100,"b":102,"v":0.2},{"r":6,"a":106,"b":108,"v":0.19},{"r":6,"a":110,"b":123,"v":0.13},{"r":6,"a":125,"b":128,"v":0.28},{"r":6,"a":134,"b":136,"v":0.1},{"r":6,"a":150,"b":154,"v":0.44},{"r":6,"a":156,"b":158,"v":0.2},{"r":6,"a":159,"b":161,"v":0.28},{"r":6,"a":183,"b":186,"v":0.3},{"r":6,"a":192,"b":194,"v":0.15},{"r":6,"a":213,"b":217,"v":0.2},{"r":6,"a":219,"b":222,"v":0.3},{"r":6,"a":230,"b":236,"v":0.18},{"r":6,"a":236,"b":241,"v":0.36},{"r":6,"a":249,"b":253,"v":0.12},{"r":6,"a":260,"b":264,"v":0.28},{"r":6,"a":275,"b":283,"v":0.08},{"r":6,"a":292,"b":295,"v":0.27},{"r":6,"a":302,"b":306,"v":0.22},{"r":6,"a":310,"b":312,"v":0.28},{"r":6,"a":321,"b":323,"v":0.2},{"r":6,"a":329,"b":334,"v":0.35},{"r":6,"a":337,"b":340,"v":0.2},{"r":6,"a":342,"b":348,"v":0.15},{"r":6,"a":356,"b":359,"v":0.4},{"r":6,"a":365,"b":367,"v":0.3},{"r":6,"a":379,"b":384,"v":0.12},{"r":6,"a":388,"b":391,"v":0.15},{"r":6,"a":395,"b":398,"v":0.27},{"r":6,"a":403,"b":406,"v":0.28},{"r":6,"a":410,"b":414,"v":0.2},{"r":6,"a":417,"b":420,"v":0.2},{"r":6,"a":435,"b":439,"v":0.17},{"r":6,"a":456,"b":458,"v":0.47},{"r":6,"a":479,"b":486,"v":0.25},{"r":6,"a":492,"b":495,"v":0.2},{"r":6,"a":503,"b":506,"v":0.2},{"r":6,"a":509,"b":511,"v":0.27},{"r":6,"a":517,"b":519,"v":0.3},{"r":6,"a":531,"b":536,"v":0.17},{"r":6,"a":542,"b":546,"v":0.07},{"r":6,"a":556,"b":561,"v":0.34},{"r":6,"a":569,"b":572,"v":0.48},{"r":6,"a":591,"b":593,"v":0.28},{"r":6,"a":597,"b":600,"v":0.29},{"r":6,"a":602,"b":607,"v":0.19},{"r":6,"a":608,"b":610,"v":0.42},{"r":6,"a":627,"b":632,"v":0.4},{"r":6,"a":638,"b":641,"v":0.12},{"r":6,"a":652,"b":672,"v":0.3},{"r":6,"a":694,"b":696,"v":0.28},{"r":6,"a":697,"b":706,"v":0.17},{"r":6,"a":707,"b":710,"v":0.54},{"r":6,"a":726,"b":732,"v":0.3},{"r":6,"a":737,"b":740,"v":0.3},{"r":6,"a":744,"b":747,"v":0.2},{"r":6,"a":749,"b":752,"v":0.38},{"r":6,"a":754,"b":763,"v":0.17},{"r":6,"a":769,"b":773,"v":0.33},{"r":6,"a":777,"b":789,"v":0.17},{"r":6,"a":801,"b":804,"v":0.2},{"r":6,"a":811,"b":813,"v":0.3},{"r":6,"a":823,"b":829,"v":0.28},{"r":6,"a":834,"b":837,"v":0.34},
{"r":7,"a":0,"b":3,"v":0.2},{"r":7,"a":42,"b":45,"v":0.13},{"r":7,"a":73,"b":76,"v":0.05},{"r":7,"a":90,"b":92,"v":0.07},{"r":7,"a":111,"b":114,"v":0.15},{"r":7,"a":126,"b":133,"v":0.04},{"r":7,"a":166,"b":180,"v":0.05},{"r":7,"a":203,"b":206,"v":0.07},{"r":7,"a":244,"b":246,"v":0.08},{"r":7,"a":270,"b":272,"v":0.18},{"r":7,"a":276,"b":285,"v":0.05},{"r":7,"a":289,"b":302,"v":0.06},{"r":7,"a":346,"b":361,"v":0.08},{"r":7,"a":368,"b":370,"v":0.12},{"r":7,"a":396,"b":398,"v":0.1},{"r":7,"a":425,"b":427,"v":0.2},{"r":7,"a":442,"b":446,"v":0.08},{"r":7,"a":467,"b":477,"v":0.05},{"r":7,"a":495,"b":497,"v":0.2},{"r":7,"a":526,"b":529,"v":0.06},{"r":7,"a":554,"b":566,"v":0.05},{"r":7,"a":669,"b":671,"v":0.15},{"r":7,"a":743,"b":760,"v":0.05},{"r":7,"a":826,"b":829,"v":0.1},
{"r":8,"a":0,"b":10,"v":0.08},{"r":8,"a":15,"b":26,"v":0.18},{"r":8,"a":28,"b":36,"v":0.15},{"r":8,"a":48,"b":51,"v":0.1},{"r":8,"a":53,"b":59,"v":0.22},{"r":8,"a":70,"b":73,"v":0.27},{"r":8,"a":90,"b":93,"v":0.1},{"r":8,"a":103,"b":110,"v":0.05},{"r":8,"a":142,"b":144,"v":0.27},{"r":8,"a":152,"b":161,"v":0.18},{"r":8,"a":166,"b":175,"v":0.08},{"r":8,"a":184,"b":186,"v":0.17},{"r":8,"a":200,"b":213,"v":0.12},{"r":8,"a":220,"b":231,"v":0.07},{"r":8,"a":233,"b":236,"v":0.38},{"r":8,"a":243,"b":256,"v":0.1},{"r":8,"a":258,"b":260,"v":0.25},{"r":8,"a":266,"b":269,"v":0.3},{"r":8,"a":288,"b":290,"v":0.27},{"r":8,"a":292,"b":298,"v":0.2},{"r":8,"a":302,"b":312,"v":0.08},{"r":8,"a":321,"b":329,"v":0.15},{"r":8,"a":334,"b":337,"v":0.28},{"r":8,"a":352,"b":354,"v":0.17},{"r":8,"a":356,"b":362,"v":0.08},{"r":8,"a":377,"b":381,"v":0.27},{"r":8,"a":398,"b":403,"v":0.17},{"r":8,"a":421,"b":443,"v":0.09},{"r":8,"a":446,"b":451,"v":0.26},{"r":8,"a":464,"b":467,"v":0.3},{"r":8,"a":469,"b":477,"v":0.15},{"r":8,"a":482,"b":491,"v":0.08},{"r":8,"a":496,"b":509,"v":0.08},{"r":8,"a":529,"b":536,"v":0.1},{"r":8,"a":544,"b":547,"v":0.27},{"r":8,"a":550,"b":556,"v":0.22},{"r":8,"a":569,"b":572,"v":0.1},{"r":8,"a":579,"b":589,"v":0.07},{"r":8,"a":616,"b":626,"v":0.08},{"r":8,"a":644,"b":654,"v":0.12},{"r":8,"a":677,"b":679,"v":0.27},{"r":8,"a":694,"b":706,"v":0.12},{"r":8,"a":732,"b":734,"v":0.2},{"r":8,"a":737,"b":746,"v":0.12},{"r":8,"a":757,"b":765,"v":0.24},{"r":8,"a":776,"b":783,"v":0.25},{"r":8,"a":788,"b":790,"v":0.3},{"r":8,"a":810,"b":812,"v":0.27},{"r":8,"a":821,"b":823,"v":0.3},
{"r":9,"a":6,"b":13,"v":0.05},{"r":9,"a":30,"b":36,"v":0.07},{"r":9,"a":50,"b":53,"v":0.13},{"r":9,"a":90,"b":96,"v":0.07},{"r":9,"a":98,"b":100,"v":0.12},{"r":9,"a":114,"b":122,"v":0.1},{"r":9,"a":122,"b":125,"v":0.22},{"r":9,"a":133,"b":140,"v":0.07},{"r":9,"a":161,"b":166,"v":0.1},{"r":9,"a":180,"b":183,"v":0.27},{"r":9,"a":189,"b":200,"v":0.15},{"r":9,"a":203,"b":213,"v":0.1},{"r":9,"a":215,"b":226,"v":0.07},{"r":9,"a":272,"b":275,"v":0.13},{"r":9,"a":290,"b":292,"v":0.27},{"r":9,"a":310,"b":313,"v":0.07},{"r":9,"a":318,"b":321,"v":0.15},{"r":9,"a":332,"b":351,"v":0.07},{"r":9,"a":407,"b":411,"v":0.08},{"r":9,"a":442,"b":461,"v":0.07},{"r":9,"a":497,"b":500,"v":0.2},{"r":9,"a":512,"b":517,"v":0.08},{"r":9,"a":519,"b":531,"v":0.11},{"r":9,"a":547,"b":567,"v":0.1},{"r":9,"a":575,"b":580,"v":0.18},{"r":9,"a":609,"b":626,"v":0.06},{"r":9,"a":642,"b":652,"v":0.1},{"r":9,"a":661,"b":663,"v":0.2},{"r":9,"a":681,"b":689,"v":0.13},{"r":9,"a":724,"b":727,"v":0.12},{"r":9,"a":754,"b":757,"v":0.06},{"r":9,"a":792,"b":795,"v":0.2},{"r":9,"a":826,"b":834,"v":0.07},
{"r":10,"a":0,"b":3,"v":0.15},{"r":10,"a":6,"b":13,"v":0.05},{"r":10,"a":20,"b":28,"v":0.13},{"r":10,"a":28,"b":31,"v":0.24},{"r":10,"a":45,"b":50,"v":0.08},{"r":10,"a":56,"b":59,"v":0.1},{"r":10,"a":73,"b":86,"v":0.09},{"r":10,"a":92,"b":94,"v":0.27},{"r":10,"a":100,"b":106,"v":0.1},{"r":10,"a":115,"b":116,"v":0.17},{"r":10,"a":130,"b":132,"v":0.17},{"r":10,"a":141,"b":146,"v":0.17},{"r":10,"a":156,"b":161,"v":0.1},{"r":10,"a":173,"b":180,"v":0.12},{"r":10,"a":186,"b":193,"v":0.08},{"r":10,"a":217,"b":224,"v":0.2},{"r":10,"a":227,"b":233,"v":0.27},{"r":10,"a":235,"b":238,"v":0.2},{"r":10,"a":243,"b":246,"v":0.15},{"r":10,"a":272,"b":277,"v":0.15},{"r":10,"a":287,"b":291,"v":0.1},{"r":10,"a":315,"b":332,"v":0.08},{"r":10,"a":334,"b":341,"v":0.2},{"r":10,"a":363,"b":370,"v":0.18},{"r":10,"a":386,"b":393,"v":0.07},{"r":10,"a":406,"b":411,"v":0.1},{"r":10,"a":418,"b":420,"v":0.2},{"r":10,"a":426,"b":429,"v":0.1},{"r":10,"a":437,"b":442,"v":0.18},{"r":10,"a":454,"b":456,"v":0.2},{"r":10,"a":459,"b":464,"v":0.15},{"r":10,"a":468,"b":471,"v":0.2},{"r":10,"a":506,"b":508,"v":0.27},{"r":10,"a":529,"b":533,"v":0.27},{"r":10,"a":562,"b":568,"v":0.2},{"r":10,"a":572,"b":579,"v":0.2},{"r":10,"a":580,"b":582,"v":0.2},{"r":10,"a":589,"b":594,"v":0.07},{"r":10,"a":602,"b":605,"v":0.3},{"r":10,"a":611,"b":613,"v":0.27},{"r":10,"a":622,"b":626,"v":0.1},{"r":10,"a":630,"b":639,"v":0.18},{"r":10,"a":642,"b":647,"v":0.17},{"r":10,"a":662,"b":665,"v":0.1},{"r":10,"a":688,"b":693,"v":0.22},{"r":10,"a":741,"b":743,"v":0.2},{"r":10,"a":791,"b":796,"v":0.27},{"r":10,"a":804,"b":806,"v":0.24},
{"r":11,"a":10,"b":16,"v":0.1},{"r":11,"a":23,"b":31,"v":0.07},{"r":11,"a":35,"b":46,"v":0.1},{"r":11,"a":48,"b":56,"v":0.12},{"r":11,"a":67,"b":70,"v":0.2},{"r":11,"a":80,"b":86,"v":0.1},{"r":11,"a":97,"b":111,"v":0.1},{"r":11,"a":125,"b":140,"v":0.12},{"r":11,"a":150,"b":156,"v":0.08},{"r":11,"a":165,"b":170,"v":0.15},{"r":11,"a":171,"b":198,"v":0.13},{"r":11,"a":200,"b":216,"v":0.12},{"r":11,"a":238,"b":260,"v":0.13},{"r":11,"a":266,"b":275,"v":0.1},{"r":11,"a":290,"b":301,"v":0.15},{"r":11,"a":303,"b":310,"v":0.17},{"r":11,"a":319,"b":332,"v":0.17},{"r":11,"a":340,"b":356,"v":0.1},{"r":11,"a":361,"b":367,"v":0.08},{"r":11,"a":370,"b":382,"v":0.12},{"r":11,"a":389,"b":393,"v":0.06},{"r":11,"a":395,"b":399,"v":0.2},{"r":11,"a":401,"b":414,"v":0.12},{"r":11,"a":417,"b":424,"v":0.15},{"r":11,"a":428,"b":438,"v":0.1},{"r":11,"a":442,"b":452,"v":0.1},{"r":11,"a":476,"b":492,"v":0.1},{"r":11,"a":493,"b":495,"v":0.2},{"r":11,"a":497,"b":506,"v":0.13},{"r":11,"a":514,"b":517,"v":0.2},{"r":11,"a":536,"b":544,"v":0.08},{"r":11,"a":568,"b":572,"v":0.08},{"r":11,"a":575,"b":579,"v":0.17},{"r":11,"a":597,"b":601,"v":0.1},{"r":11,"a":606,"b":611,"v":0.13},{"r":11,"a":618,"b":622,"v":0.08},{"r":11,"a":646,"b":649,"v":0.15},{"r":11,"a":667,"b":671,"v":0.16},{"r":11,"a":686,"b":688,"v":0.17},{"r":11,"a":703,"b":710,"v":0.08},{"r":11,"a":727,"b":741,"v":0.1},{"r":11,"a":774,"b":778,"v":0.12},{"r":11,"a":806,"b":817,"v":0.15},{"r":11,"a":821,"b":834,"v":0.12},
{"r":12,"a":28,"b":30,"v":0.05},{"r":12,"a":61,"b":63,"v":0.03},{"r":12,"a":175,"b":177,"v":0.06},{"r":12,"a":317,"b":321,"v":0.04},{"r":12,"a":553,"b":556,"v":0.06},{"r":12,"a":586,"b":588,"v":0.1},
{"r":13,"a":4,"b":7,"v":0.27},{"r":13,"a":9,"b":12,"v":0.18},{"r":13,"a":31,"b":34,"v":0.38},{"r":13,"a":36,"b":43,"v":0.05},{"r":13,"a":61,"b":64,"v":0.08},{"r":13,"a":67,"b":78,"v":0.1},{"r":13,"a":87,"b":89,"v":0.17},{"r":13,"a":111,"b":116,"v":0.05},{"r":13,"a":120,"b":125,"v":0.05},{"r":13,"a":169,"b":171,"v":0.08},{"r":13,"a":197,"b":200,"v":0.07},{"r":13,"a":241,"b":244,"v":0.12},{"r":13,"a":247,"b":250,"v":0.27},{"r":13,"a":269,"b":271,"v":0.15},{"r":13,"a":296,"b":301,"v":0.08},{"r":13,"a":323,"b":329,"v":0.3},{"r":13,"a":353,"b":356,"v":0.1},{"r":13,"a":414,"b":417,"v":0.27},{"r":13,"a":420,"b":423,"v":0.12},{"r":13,"a":428,"b":431,"v":0.12},{"r":13,"a":435,"b":437,"v":0.12},{"r":13,"a":442,"b":446,"v":0.08},{"r":13,"a":454,"b":456,"v":0.1},{"r":13,"a":470,"b":473,"v":0.28},{"r":13,"a":499,"b":505,"v":0.15},{"r":13,"a":520,"b":523,"v":0.1},{"r":13,"a":525,"b":531,"v":0.1},{"r":13,"a":542,"b":544,"v":0.29},{"r":13,"a":549,"b":552,"v":0.14},{"r":13,"a":576,"b":580,"v":0.2},{"r":13,"a":582,"b":589,"v":0.18},{"r":13,"a":594,"b":597,"v":0.28},{"r":13,"a":641,"b":646,"v":0.12},{"r":13,"a":677,"b":682,"v":0.28},{"r":13,"a":704,"b":707,"v":0.25},{"r":13,"a":712,"b":714,"v":0.25},{"r":13,"a":721,"b":723,"v":0.33},{"r":13,"a":732,"b":738,"v":0.2},{"r":13,"a":741,"b":743,"v":0.3},{"r":13,"a":771,"b":773,"v":0.27},{"r":13,"a":785,"b":788,"v":0.38},{"r":13,"a":791,"b":793,"v":0.3},
{"r":14,"a":0,"b":6,"v":0.1},{"r":14,"a":26,"b":29,"v":0.05},{"r":14,"a":33,"b":40,"v":0.05},{"r":14,"a":70,"b":73,"v":0.06},{"r":14,"a":76,"b":80,"v":0.05},{"r":14,"a":140,"b":145,"v":0.07},{"r":14,"a":156,"b":158,"v":0.07},{"r":14,"a":198,"b":203,"v":0.05},{"r":14,"a":322,"b":326,"v":0.05},{"r":14,"a":417,"b":422,"v":0.08},{"r":14,"a":428,"b":442,"v":0.05},{"r":14,"a":497,"b":500,"v":0.08},{"r":14,"a":526,"b":536,"v":0.06},{"r":14,"a":564,"b":566,"v":0.27},{"r":14,"a":577,"b":580,"v":0.27},{"r":14,"a":622,"b":624,"v":0.2},
{"r":15,"a":33,"b":46,"v":0.07},{"r":15,"a":53,"b":61,"v":0.08},{"r":15,"a":67,"b":73,"v":0.08},{"r":15,"a":76,"b":78,"v":0.1},{"r":15,"a":117,"b":120,"v":0.14},{"r":15,"a":153,"b":166,"v":0.05},{"r":15,"a":240,"b":246,"v":0.07},{"r":15,"a":250,"b":255,"v":0.1},{"r":15,"a":258,"b":263,"v":0.12},{"r":15,"a":329,"b":334,"v":0.05},{"r":15,"a":379,"b":381,"v":0.05},{"r":15,"a":431,"b":433,"v":0.08},{"r":15,"a":474,"b":476,"v":0.14},{"r":15,"a":531,"b":533,"v":0.07},{"r":15,"a":732,"b":734,"v":0.08},
{"r":16,"a":15,"b":17,"v":0.13},{"r":16,"a":20,"b":28,"v":0.2},{"r":16,"a":48,"b":50,"v":0.08},{"r":16,"a":65,"b":67,"v":0.12},{"r":16,"a":73,"b":76,"v":0.1},{"r":16,"a":117,"b":120,"v":0.2},{"r":16,"a":121,"b":130,"v":0.06},{"r":16,"a":136,"b":139,"v":0.2},{"r":16,"a":145,"b":150,"v":0.2},{"r":16,"a":153,"b":155,"v":0.26},{"r":16,"a":158,"b":161,"v":0.2},{"r":16,"a":165,"b":166,"v":0.17},{"r":16,"a":170,"b":172,"v":0.2},{"r":16,"a":176,"b":177,"v":0.13},{"r":16,"a":186,"b":188,"v":0.17},{"r":16,"a":196,"b":203,"v":0.08},{"r":16,"a":213,"b":216,"v":0.07},{"r":16,"a":222,"b":225,"v":0.15},{"r":16,"a":263,"b":266,"v":0.37},{"r":16,"a":292,"b":296,"v":0.1},{"r":16,"a":310,"b":315,"v":0.3},{"r":16,"a":332,"b":334,"v":0.2},{"r":16,"a":337,"b":343,"v":0.17},{"r":16,"a":352,"b":354,"v":0.15},{"r":16,"a":365,"b":367,"v":0.2},{"r":16,"a":373,"b":376,"v":0.25},{"r":16,"a":389,"b":397,"v":0.09},{"r":16,"a":399,"b":403,"v":0.17},{"r":16,"a":423,"b":426,"v":0.08},{"r":16,"a":448,"b":456,"v":0.08},{"r":16,"a":459,"b":466,"v":0.2},{"r":16,"a":475,"b":480,"v":0.14},{"r":16,"a":487,"b":491,"v":0.07},{"r":16,"a":502,"b":512,"v":0.07},{"r":16,"a":547,"b":554,"v":0.12},{"r":16,"a":572,"b":575,"v":0.2},{"r":16,"a":584,"b":587,"v":0.06},{"r":16,"a":599,"b":609,"v":0.14},{"r":16,"a":646,"b":649,"v":0.25},{"r":16,"a":662,"b":674,"v":0.14},{"r":16,"a":691,"b":693,"v":0.27},{"r":16,"a":696,"b":702,"v":0.22},{"r":16,"a":726,"b":729,"v":0.1},{"r":16,"a":746,"b":748,"v":0.27},{"r":16,"a":751,"b":759,"v":0.14},{"r":16,"a":766,"b":768,"v":0.26},{"r":16,"a":802,"b":805,"v":0.15},{"r":16,"a":817,"b":821,"v":0.17},{"r":16,"a":829,"b":834,"v":0.27},
{"r":17,"a":6,"b":9,"v":0.1},{"r":17,"a":12,"b":14,"v":0.2},{"r":17,"a":36,"b":40,"v":0.1},{"r":17,"a":45,"b":48,"v":0.15},{"r":17,"a":54,"b":56,"v":0.2},{"r":17,"a":78,"b":81,"v":0.27},{"r":17,"a":95,"b":97,"v":0.15},{"r":17,"a":100,"b":103,"v":0.2},{"r":17,"a":106,"b":111,"v":0.23},{"r":17,"a":118,"b":120,"v":0.17},{"r":17,"a":128,"b":133,"v":0.37},{"r":17,"a":151,"b":156,"v":0.12},{"r":17,"a":165,"b":171,"v":0.13},{"r":17,"a":192,"b":194,"v":0.2},{"r":17,"a":203,"b":205,"v":0.28},{"r":17,"a":208,"b":216,"v":0.16},{"r":17,"a":225,"b":227,"v":0.2},{"r":17,"a":287,"b":290,"v":0.17},{"r":17,"a":343,"b":345,"v":0.28},{"r":17,"a":357,"b":359,"v":0.28},{"r":17,"a":382,"b":390,"v":0.3},{"r":17,"a":409,"b":412,"v":0.28},{"r":17,"a":431,"b":442,"v":0.1},{"r":17,"a":442,"b":445,"v":0.2},{"r":17,"a":458,"b":461,"v":0.17},{"r":17,"a":467,"b":469,"v":0.2},{"r":17,"a":481,"b":484,"v":0.17},{"r":17,"a":495,"b":497,"v":0.28},{"r":17,"a":521,"b":525,"v":0.12},{"r":17,"a":544,"b":546,"v":0.2},{"r":17,"a":575,"b":579,"v":0.1},{"r":17,"a":622,"b":637,"v":0.12},{"r":17,"a":638,"b":641,"v":0.15},{"r":17,"a":666,"b":669,"v":0.28},{"r":17,"a":694,"b":696,"v":0.25},{"r":17,"a":744,"b":746,"v":0.2},{"r":17,"a":749,"b":751,"v":0.1},{"r":17,"a":782,"b":784,"v":0.27},{"r":17,"a":799,"b":803,"v":0.15},{"r":17,"a":804,"b":807,"v":0.33},{"r":17,"a":814,"b":817,"v":0.13},{"r":17,"a":822,"b":832,"v":0.1},
{"r":18,"a":0,"b":6,"v":0.07},{"r":18,"a":62,"b":67,"v":0.1},{"r":18,"a":82,"b":85,"v":0.15},{"r":18,"a":92,"b":95,"v":0.17},{"r":18,"a":98,"b":101,"v":0.2},{"r":18,"a":103,"b":106,"v":0.13},{"r":18,"a":119,"b":125,"v":0.06},{"r":18,"a":176,"b":178,"v":0.2},{"r":18,"a":206,"b":213,"v":0.06},{"r":18,"a":217,"b":219,"v":0.2},{"r":18,"a":225,"b":233,"v":0.12},{"r":18,"a":253,"b":258,"v":0.08},{"r":18,"a":272,"b":283,"v":0.12},{"r":18,"a":298,"b":304,"v":0.2},{"r":18,"a":316,"b":321,"v":0.17},{"r":18,"a":334,"b":337,"v":0.2},{"r":18,"a":360,"b":363,"v":0.27},{"r":18,"a":364,"b":373,"v":0.16},{"r":18,"a":399,"b":401,"v":0.17},{"r":18,"a":409,"b":422,"v":0.1},{"r":18,"a":439,"b":443,"v":0.07},{"r":18,"a":507,"b":514,"v":0.2},{"r":18,"a":517,"b":526,"v":0.12},{"r":18,"a":541,"b":551,"v":0.1},{"r":18,"a":556,"b":559,"v":0.17},{"r":18,"a":582,"b":591,"v":0.1},{"r":18,"a":607,"b":611,"v":0.07},{"r":18,"a":647,"b":652,"v":0.14},{"r":18,"a":680,"b":691,"v":0.12},{"r":18,"a":711,"b":722,"v":0.12},{"r":18,"a":724,"b":727,"v":0.2},{"r":18,"a":756,"b":759,"v":0.06},{"r":18,"a":772,"b":779,"v":0.07},
{"r":19,"a":17,"b":20,"v":0.2},{"r":19,"a":65,"b":67,"v":0.28},{"r":19,"a":136,"b":138,"v":0.17},{"r":19,"a":147,"b":150,"v":0.12},{"r":19,"a":189,"b":191,"v":0.2},{"r":19,"a":272,"b":280,"v":0.1},{"r":19,"a":280,"b":283,"v":0.27},{"r":19,"a":298,"b":303,"v":0.15},{"r":19,"a":346,"b":353,"v":0.15},{"r":19,"a":360,"b":362,"v":0.27},{"r":19,"a":390,"b":393,"v":0.2},{"r":19,"a":426,"b":429,"v":0.15},{"r":19,"a":486,"b":489,"v":0.05},{"r":19,"a":582,"b":587,"v":0.05},{"r":19,"a":649,"b":652,"v":0.28},{"r":19,"a":686,"b":688,"v":0.12},{"r":19,"a":776,"b":778,"v":0.1},{"r":19,"a":812,"b":815,"v":0.14},
{"r":20,"a":15,"b":17,"v":0.08},{"r":20,"a":43,"b":45,"v":0.05},{"r":20,"a":59,"b":61,"v":0.07},{"r":20,"a":115,"b":117,"v":0.14},{"r":20,"a":151,"b":156,"v":0.05},{"r":20,"a":344,"b":346,"v":0.05},{"r":20,"a":353,"b":355,"v":0.07},{"r":20,"a":499,"b":501,"v":0.04},{"r":20,"a":568,"b":569,"v":0.04},{"r":20,"a":578,"b":580,"v":0.08},{"r":20,"a":586,"b":588,"v":0.05},{"r":20,"a":656,"b":658,"v":0.15},{"r":20,"a":674,"b":677,"v":0.17},
{"r":21,"a":0,"b":10,"v":0.26},{"r":21,"a":10,"b":17,"v":0.2},{"r":21,"a":17,"b":20,"v":0.35},{"r":21,"a":21,"b":28,"v":0.14},{"r":21,"a":30,"b":35,"v":0.16},{"r":21,"a":36,"b":46,"v":0.2},{"r":21,"a":48,"b":56,"v":0.14},{"r":21,"a":58,"b":61,"v":0.46},{"r":21,"a":61,"b":66,"v":0.24},{"r":21,"a":67,"b":70,"v":0.3},{"r":21,"a":71,"b":80,"v":0.2},{"r":21,"a":80,"b":85,"v":0.3},{"r":21,"a":86,"b":100,"v":0.17},{"r":21,"a":106,"b":116,"v":0.15},{"r":21,"a":120,"b":128,"v":0.28},{"r":21,"a":129,"b":131,"v":0.08},{"r":21,"a":133,"b":136,"v":0.35},{"r":21,"a":138,"b":143,"v":0.25},{"r":21,"a":145,"b":147,"v":0.42},{"r":21,"a":147,"b":155,"v":0.05},{"r":21,"a":161,"b":165,"v":0.3},{"r":21,"a":166,"b":171,"v":0.15},{"r":21,"a":173,"b":176,"v":0.32},{"r":21,"a":178,"b":185,"v":0.28},{"r":21,"a":190,"b":201,"v":0.2},{"r":21,"a":203,"b":215,"v":0.29},{"r":21,"a":215,"b":223,"v":0.12},{"r":21,"a":236,"b":241,"v":0.28},{"r":21,"a":246,"b":255,"v":0.22},{"r":21,"a":255,"b":258,"v":0.38},{"r":21,"a":266,"b":280,"v":0.28},{"r":21,"a":282,"b":286,"v":0.5},{"r":21,"a":288,"b":293,"v":0.35},{"r":21,"a":301,"b":309,"v":0.27},{"r":21,"a":311,"b":319,"v":0.12},{"r":21,"a":321,"b":324,"v":0.28},{"r":21,"a":332,"b":341,"v":0.17},{"r":21,"a":343,"b":347,"v":0.05},{"r":21,"a":358,"b":368,"v":0.2},{"r":21,"a":369,"b":371,"v":0.28},{"r":21,"a":376,"b":379,"v":0.28},{"r":21,"a":393,"b":395,"v":0.33},{"r":21,"a":396,"b":406,"v":0.12},{"r":21,"a":406,"b":409,"v":0.3},{"r":21,"a":414,"b":420,"v":0.27},{"r":21,"a":431,"b":439,"v":0.3},{"r":21,"a":448,"b":450,"v":0.34},{"r":21,"a":456,"b":466,"v":0.15},{"r":21,"a":473,"b":478,"v":0.3},{"r":21,"a":489,"b":492,"v":0.48},{"r":21,"a":497,"b":506,"v":0.27},{"r":21,"a":511,"b":514,"v":0.32},{"r":21,"a":516,"b":527,"v":0.17},{"r":21,"a":527,"b":537,"v":0.26},{"r":21,"a":547,"b":550,"v":0.45},{"r":21,"a":561,"b":566,"v":0.28},{"r":21,"a":569,"b":576,"v":0.15},{"r":21,"a":579,"b":582,"v":0.22},{"r":21,"a":588,"b":591,"v":0.35},{"r":21,"a":597,"b":614,"v":0.3},{"r":21,"a":614,"b":621,"v":0.27},{"r":21,"a":622,"b":627,"v":0.31},{"r":21,"a":644,"b":647,"v":0.42},{"r":21,"a":647,"b":666,"v":0.14},{"r":21,"a":669,"b":671,"v":0.3},{"r":21,"a":674,"b":679,"v":0.07},{"r":21,"a":683,"b":699,"v":0.17},{"r":21,"a":699,"b":702,"v":0.3},{"r":21,"a":702,"b":719,"v":0.2},{"r":21,"a":721,"b":726,"v":0.3},{"r":21,"a":736,"b":738,"v":0.33},{"r":21,"a":746,"b":759,"v":0.24},{"r":21,"a":766,"b":786,"v":0.17},{"r":21,"a":792,"b":799,"v":0.2},{"r":21,"a":807,"b":810,"v":0.3},{"r":21,"a":814,"b":821,"v":0.28},{"r":21,"a":829,"b":832,"v":0.1}],
"leg":[{"col":1,"slot":0.73,"c":"T0"},{"col":1,"slot":1.73,"c":"T1"},{"col":1,"slot":2.73,"c":"T2"},{"col":1,"slot":3.73,"c":"T3"},{"col":1,"slot":4.73,"c":"T4"},{"col":1,"slot":5.73,"c":"TX"},{"col":1,"slot":8.25,"c":"M0"},{"col":1,"slot":9.25,"c":"M1"},{"col":1,"slot":10.25,"c":"MX"},{"col":1,"slot":12.75,"c":"N0"},{"col":1,"slot":13.75,"c":"N1"},{"col":1,"slot":14.75,"c":"N2"},{"col":1,"slot":15.75,"c":"N3"},{"col":1,"slot":16.75,"c":"NX"},{"col":2,"slot":0.73,"c":"stageI"},{"col":2,"slot":1.73,"c":"stageII"},{"col":2,"slot":2.73,"c":"stageIII"},{"col":2,"slot":3.73,"c":"stageIV"},{"col":2,"slot":4.73,"c":"unknow"},{"col":2,"slot":7.25,"c":"female"},{"col":2,"slot":8.25,"c":"male"},{"col":2,"slot":10.76,"c":"high"},{"col":2,"slot":11.76,"c":"low"}],
"lt":[{"col":1,"slot":0.267,"t":"ajcc_pathologic_t"},{"col":1,"slot":7.75,"t":"ajcc_pathologic_m"},{"col":1,"slot":12.29,"t":"ajcc_pathologic_n"},{"col":2,"slot":0.267,"t":"ajcc_pathologic_stage"},{"col":2,"slot":6.76,"t":"gender"},{"col":2,"slot":10.28,"t":"muc1"}]},
"bounds":"flush","spacing":0,
"vconcat":[
{"hconcat":[
{"width":272.6,"height":231,"encoding":{"x":{"field":"x","type":"quantitative","scale":{"domain":[-0.0846,1.0372],"nice":false,"zero":false},"axis":{"values":[0.25,0.5,0.75,1],"format":".2f","title":null}},"y":{"field":"y","type":"quantitative","scale":{"domain":[1.27,13.26],"nice":false,"zero":false},"axis":{"values":[2.5,5,7.5,10,12.5],"format":".1f","title":"MUC1 Expression Level (log2 TPM)","titleFontSize":16,"titlePadding":8,"offset":-4.6}}},
"layer":[
{"data":{"values":[{"x":0.125},{"x":0.25},{"x":0.375},{"x":0.5},{"x":0.625},{"x":0.75},{"x":0.875},{"x":1}]},"transform":[{"calculate":"1.27","as":"y"},{"calculate":"13.26","as":"y2"}],"mark":{"type":"rule","color":"#ededed","strokeWidth":1.5},"encoding":{"y2":{"field":"y2"}}},
{"data":{"name":"gy"},"transform":[{"calculate":"0.0376","as":"x"},{"calculate":"1.0372","as":"x2"}],"mark":{"type":"rule","color":"#ededed","strokeWidth":1.5},"encoding":{"x2":{"field":"x2"}}},
{"data":{"name":"pts"},"transform":[{"filter":"datum.p==1"}],"mark":"circle"},
{"data":{"name":"sm"},"transform":[{"filter":"datum.p==1"}],"mark":{"type":"area","color":"#999999","opacity":0.45,"interpolate":"monotone"},"encoding":{"y":{"field":"lo","type":"quantitative"},"y2":{"field":"hi"}}},
{"data":{"name":"sm"},"transform":[{"filter":"datum.p==1"}],"mark":{"type":"line","color":"#3366FF","strokeWidth":3,"interpolate":"monotone"}},
{"data":{"values":[{"x":1.03,"y":12.59,"t":"cor = -0.12"},{"x":1.03,"y":11.79,"t":"p = 2.11e-02"}]},"mark":{"type":"text","align":"right","baseline":"middle","color":"#FF0000","fontSize":16.4},"encoding":{"text":{"field":"t"}}},
{"data":{"values":[{"x":0.0376,"x2":1.0372,"y":1.27,"y2":13.26}]},"mark":{"type":"rect","fillOpacity":0,"stroke":"#7f7f7f","strokeWidth":1.5},"encoding":{"x2":{"field":"x2"},"y2":{"field":"y2"}}},
{"data":{"values":[{"x":-0.0656,"x2":0.0376,"y":1.27,"y2":13.26},{"x":0.0376,"x2":1.0372,"y":13.26,"y2":14.56}]},"mark":{"type":"rect","color":"#d9d9d9","stroke":"#555555","strokeWidth":1.5},"encoding":{"x2":{"field":"x2"},"y2":{"field":"y2"}}},
{"data":{"values":[{"x":0.5374,"y":13.91,"t":"Purity"}]},"mark":{"type":"text","fontSize":13,"color":"#222222"},"encoding":{"text":{"field":"t"}}},
{"data":{"values":[{"x":-0.0146,"y":7.5,"t":"BLCA"}]},"mark":{"type":"text","fontSize":13,"color":"#222222","angle":270},"encoding":{"text":{"field":"t"}}},
{"data":{"values":[{"x":-0.0846,"y":14.56,"t":"A"}]},"mark":{"type":"text","fontSize":63,"color":"#000000","align":"left","baseline":"top","dx":-163,"dy":-10.7},"encoding":{"text":{"field":"t"}}}
]},
{"width":241.8,"height":231,"encoding":{"x":{"field":"x","type":"quantitative","scale":{"domain":[-0.0223,0.518],"nice":false,"zero":false},"axis":{"values":[0,0.1,0.2,0.3,0.4,0.5],"format":".1f","title":null}},"y":{"field":"y","type":"quantitative","scale":{"domain":[1.27,13.26],"nice":false,"zero":false},"axis":null}},
"layer":[
{"data":{"values":[{"x":0},{"x":0.05},{"x":0.1},{"x":0.15},{"x":0.2},{"x":0.25},{"x":0.3},{"x":0.35},{"x":0.4},{"x":0.45},{"x":0.5}]},"transform":[{"calculate":"1.27","as":"y"},{"calculate":"13.26","as":"y2"}],"mark":{"type":"rule","color":"#ededed","strokeWidth":1.5},"encoding":{"y2":{"field":"y2"}}},
{"data":{"name":"gy"},"transform":[{"calculate":"-0.0223","as":"x"},{"calculate":"0.518","as":"x2"}],"mark":{"type":"rule","color":"#ededed","strokeWidth":1.5},"encoding":{"x2":{"field":"x2"}}},
{"data":{"name":"pts"},"transform":[{"filter":"datum.p==2"}],"mark":"circle"},
{"data":{"name":"sm"},"transform":[{"filter":"datum.p==2"}],"mark":{"type":"area","color":"#999999","opacity":0.45,"interpolate":"monotone"},"encoding":{"y":{"field":"lo","type":"quantitative"},"y2":{"field":"hi"}}},
{"data":{"name":"sm"},"transform":[{"filter":"datum.p==2"}],"mark":{"type":"line","color":"#3366FF","strokeWidth":3,"interpolate":"monotone"}},
{"data":{"values":[{"x":0.514,"y":12.59,"t":"partial.cor = 0.166"},{"x":0.514,"y":11.79,"t":"p = 1.50e-03"}]},"mark":{"type":"text","align":"right","baseline":"middle","color":"#FF0000","fontSize":16.4},"encoding":{"text":{"field":"t"}}},
{"data":{"values":[{"x":-0.0223,"x2":0.518,"y":1.27,"y2":13.26}]},"mark":{"type":"rect","fillOpacity":0,"stroke":"#7f7f7f","strokeWidth":1.5},"encoding":{"x2":{"field":"x2"},"y2":{"field":"y2"}}},
{"data":{"values":[{"x":-0.0223,"x2":0.518,"y":13.26,"y2":14.56}]},"mark":{"type":"rect","color":"#d9d9d9","stroke":"#555555","strokeWidth":1.5},"encoding":{"x2":{"field":"x2"},"y2":{"field":"y2"}}},
{"data":{"values":[{"x":0.2479,"y":13.91,"t":"B Cell"}]},"mark":{"type":"text","fontSize":13,"color":"#222222"},"encoding":{"text":{"field":"t"}}}
]},
{"width":241.8,"height":231,"encoding":{"x":{"field":"x","type":"quantitative","scale":{"domain":[-0.026,0.58],"nice":false,"zero":false},"axis":{"values":[0,0.2,0.4],"format":".1f","title":null}},"y":{"field":"y","type":"quantitative","scale":{"domain":[1.27,13.26],"nice":false,"zero":false},"axis":null}},
"layer":[
{"data":{"values":[{"x":0},{"x":0.1},{"x":0.2},{"x":0.3},{"x":0.4},{"x":0.5}]},"transform":[{"calculate":"1.27","as":"y"},{"calculate":"13.26","as":"y2"}],"mark":{"type":"rule","color":"#ededed","strokeWidth":1.5},"encoding":{"y2":{"field":"y2"}}},
{"data":{"name":"gy"},"transform":[{"calculate":"-0.026","as":"x"},{"calculate":"0.58","as":"x2"}],"mark":{"type":"rule","color":"#ededed","strokeWidth":1.5},"encoding":{"x2":{"field":"x2"}}},
{"data":{"name":"pts"},"transform":[{"filter":"datum.p==3"}],"mark":"circle"},
{"data":{"name":"sm"},"transform":[{"filter":"datum.p==3"}],"mark":{"type":"area","color":"#999999","opacity":0.45,"interpolate":"monotone"},"encoding":{"y":{"field":"lo","type":"quantitative"},"y2":{"field":"hi"}}},
{"data":{"name":"sm"},"transform":[{"filter":"datum.p==3"}],"mark":{"type":"line","color":"#3366FF","strokeWidth":3,"interpolate":"monotone"}},
{"data":{"values":[{"x":0.575,"y":12.59,"t":"partial.cor = -0.001"},{"x":0.575,"y":11.79,"t":"p = 9.84e-01"}]},"mark":{"type":"text","align":"right","baseline":"middle","color":"#FF0000","fontSize":16.4},"encoding":{"text":{"field":"t"}}},
{"data":{"values":[{"x":-0.026,"x2":0.58,"y":1.27,"y2":13.26}]},"mark":{"type":"rect","fillOpacity":0,"stroke":"#7f7f7f","strokeWidth":1.5},"encoding":{"x2":{"field":"x2"},"y2":{"field":"y2"}}},
{"data":{"values":[{"x":-0.026,"x2":0.58,"y":13.26,"y2":14.56}]},"mark":{"type":"rect","color":"#d9d9d9","stroke":"#555555","strokeWidth":1.5},"encoding":{"x2":{"field":"x2"},"y2":{"field":"y2"}}},
{"data":{"values":[{"x":0.277,"y":13.91,"t":"CD8+ T Cell"}]},"mark":{"type":"text","fontSize":13,"color":"#222222"},"encoding":{"text":{"field":"t"}}}
]},
{"width":241.8,"height":231,"encoding":{"x":{"field":"x","type":"quantitative","scale":{"domain":[-0.0233,0.49],"nice":false,"zero":false},"axis":{"values":[0,0.1,0.2,0.3,0.4],"format":".1f","title":"Infiltration Level","titleFontSize":16,"titlePadding":3}},"y":{"field":"y","type":"quantitative","scale":{"domain":[1.27,13.26],"nice":false,"zero":false},"axis":null}},
"layer":[
{"data":{"values":[{"x":0},{"x":0.05},{"x":0.1},{"x":0.15},{"x":0.2},{"x":0.25},{"x":0.3},{"x":0.35},{"x":0.4},{"x":0.45}]},"transform":[{"calculate":"1.27","as":"y"},{"calculate":"13.26","as":"y2"}],"mark":{"type":"rule","color":"#ededed","strokeWidth":1.5},"encoding":{"y2":{"field":"y2"}}},
{"data":{"name":"gy"},"transform":[{"calculate":"-0.0233","as":"x"},{"calculate":"0.49","as":"x2"}],"mark":{"type":"rule","color":"#ededed","strokeWidth":1.5},"encoding":{"x2":{"field":"x2"}}},
{"data":{"name":"pts"},"transform":[{"filter":"datum.p==4"}],"mark":"circle"},
{"data":{"name":"sm"},"transform":[{"filter":"datum.p==4"}],"mark":{"type":"area","color":"#999999","opacity":0.45,"interpolate":"monotone"},"encoding":{"y":{"field":"lo","type":"quantitative"},"y2":{"field":"hi"}}},
{"data":{"name":"sm"},"transform":[{"filter":"datum.p==4"}],"mark":{"type":"line","color":"#3366FF","strokeWidth":3,"interpolate":"monotone"}},
{"data":{"values":[{"x":0.486,"y":12.59,"t":"partial.cor = 0.031"},{"x":0.486,"y":11.79,"t":"p = 5.50e-01"}]},"mark":{"type":"text","align":"right","baseline":"middle","color":"#FF0000","fontSize":16.4},"encoding":{"text":{"field":"t"}}},
{"data":{"values":[{"x":-0.0233,"x2":0.49,"y":1.27,"y2":13.26}]},"mark":{"type":"rect","fillOpacity":0,"stroke":"#7f7f7f","strokeWidth":1.5},"encoding":{"x2":{"field":"x2"},"y2":{"field":"y2"}}},
{"data":{"values":[{"x":-0.0233,"x2":0.49,"y":13.26,"y2":14.56}]},"mark":{"type":"rect","color":"#d9d9d9","stroke":"#555555","strokeWidth":1.5},"encoding":{"x2":{"field":"x2"},"y2":{"field":"y2"}}},
{"data":{"values":[{"x":0.2334,"y":13.91,"t":"CD4+ T Cell"}]},"mark":{"type":"text","fontSize":13,"color":"#222222"},"encoding":{"text":{"field":"t"}}}
]},
{"width":241.8,"height":231,"encoding":{"x":{"field":"x","type":"quantitative","scale":{"domain":[-0.02,0.45],"nice":false,"zero":false},"axis":{"values":[0,0.1,0.2,0.3,0.4],"format":".1f","title":null}},"y":{"field":"y","type":"quantitative","scale":{"domain":[1.27,13.26],"nice":false,"zero":false},"axis":null}},
"layer":[
{"data":{"values":[{"x":0},{"x":0.05},{"x":0.1},{"x":0.15},{"x":0.2},{"x":0.25},{"x":0.3},{"x":0.35},{"x":0.4}]},"transform":[{"calculate":"1.27","as":"y"},{"calculate":"13.26","as":"y2"}],"mark":{"type":"rule","color":"#ededed","strokeWidth":1.5},"encoding":{"y2":{"field":"y2"}}},
{"data":{"name":"gy"},"transform":[{"calculate":"-0.02","as":"x"},{"calculate":"0.45","as":"x2"}],"mark":{"type":"rule","color":"#ededed","strokeWidth":1.5},"encoding":{"x2":{"field":"x2"}}},
{"data":{"name":"pts"},"transform":[{"filter":"datum.p==5"}],"mark":"circle"},
{"data":{"name":"sm"},"transform":[{"filter":"datum.p==5"}],"mark":{"type":"area","color":"#999999","opacity":0.45,"interpolate":"monotone"},"encoding":{"y":{"field":"lo","type":"quantitative"},"y2":{"field":"hi"}}},
{"data":{"name":"sm"},"transform":[{"filter":"datum.p==5"}],"mark":{"type":"line","color":"#3366FF","strokeWidth":3,"interpolate":"monotone"}},
{"data":{"values":[{"x":0.446,"y":12.59,"t":"partial.cor = 0.11"},{"x":0.446,"y":11.79,"t":"p = 3.59e-02"}]},"mark":{"type":"text","align":"right","baseline":"middle","color":"#FF0000","fontSize":16.4},"encoding":{"text":{"field":"t"}}},
{"data":{"values":[{"x":-0.02,"x2":0.45,"y":1.27,"y2":13.26}]},"mark":{"type":"rect","fillOpacity":0,"stroke":"#7f7f7f","strokeWidth":1.5},"encoding":{"x2":{"field":"x2"},"y2":{"field":"y2"}}},
{"data":{"values":[{"x":-0.02,"x2":0.45,"y":13.26,"y2":14.56}]},"mark":{"type":"rect","color":"#d9d9d9","stroke":"#555555","strokeWidth":1.5},"encoding":{"x2":{"field":"x2"},"y2":{"field":"y2"}}},
{"data":{"values":[{"x":0.215,"y":13.91,"t":"Macrophage"}]},"mark":{"type":"text","fontSize":13,"color":"#222222"},"encoding":{"text":{"field":"t"}}}
]},
{"width":241.8,"height":231,"encoding":{"x":{"field":"x","type":"quantitative","scale":{"domain":[0.0249,0.3678],"nice":false,"zero":false},"axis":{"values":[0.1,0.2,0.3],"format":".1f","title":null}},"y":{"field":"y","type":"quantitative","scale":{"domain":[1.27,13.26],"nice":false,"zero":false},"axis":null}},
"layer":[
{"data":{"values":[{"x":0.05},{"x":0.1},{"x":0.15},{"x":0.2},{"x":0.25},{"x":0.3},{"x":0.35}]},"transform":[{"calculate":"1.27","as":"y"},{"calculate":"13.26","as":"y2"}],"mark":{"type":"rule","color":"#ededed","strokeWidth":1.5},"encoding":{"y2":{"field":"y2"}}},
{"data":{"name":"gy"},"transform":[{"calculate":"0.0249","as":"x"},{"calculate":"0.3678","as":"x2"}],"mark":{"type":"rule","color":"#ededed","strokeWidth":1.5},"encoding":{"x2":{"field":"x2"}}},
{"data":{"name":"pts"},"transform":[{"filter":"datum.p==6"}],"mark":"circle"},
{"data":{"name":"sm"},"transform":[{"filter":"datum.p==6"}],"mark":{"type":"area","color":"#999999","opacity":0.45,"interpolate":"monotone"},"encoding":{"y":{"field":"lo","type":"quantitative"},"y2":{"field":"hi"}}},
{"data":{"name":"sm"},"transform":[{"filter":"datum.p==6"}],"mark":{"type":"line","color":"#3366FF","strokeWidth":3,"interpolate":"monotone"}},
{"data":{"values":[{"x":0.3645,"y":12.59,"t":"partial.cor = 0.185"},{"x":0.3645,"y":11.79,"t":"p = 3.94e-04"}]},"mark":{"type":"text","align":"right","baseline":"middle","color":"#FF0000","fontSize":16.4},"encoding":{"text":{"field":"t"}}},
{"data":{"values":[{"x":0.0249,"x2":0.3678,"y":1.27,"y2":13.26}]},"mark":{"type":"rect","fillOpacity":0,"stroke":"#7f7f7f","strokeWidth":1.5},"encoding":{"x2":{"field":"x2"},"y2":{"field":"y2"}}},
{"data":{"values":[{"x":0.0249,"x2":0.3678,"y":13.26,"y2":14.56}]},"mark":{"type":"rect","color":"#d9d9d9","stroke":"#555555","strokeWidth":1.5},"encoding":{"x2":{"field":"x2"},"y2":{"field":"y2"}}},
{"data":{"values":[{"x":0.1964,"y":13.91,"t":"Neutrophil"}]},"mark":{"type":"text","fontSize":13,"color":"#222222"},"encoding":{"text":{"field":"t"}}}
]},
{"width":241.8,"height":231,"encoding":{"x":{"field":"x","type":"quantitative","scale":{"domain":[0.136,1.319],"nice":false,"zero":false},"axis":{"values":[0.25,0.5,0.75,1,1.25],"format":".2f","title":null}},"y":{"field":"y","type":"quantitative","scale":{"domain":[1.27,13.26],"nice":false,"zero":false},"axis":null}},
"layer":[
{"data":{"values":[{"x":0.25},{"x":0.375},{"x":0.5},{"x":0.625},{"x":0.75},{"x":0.875},{"x":1},{"x":1.125},{"x":1.25}]},"transform":[{"calculate":"1.27","as":"y"},{"calculate":"13.26","as":"y2"}],"mark":{"type":"rule","color":"#ededed","strokeWidth":1.5},"encoding":{"y2":{"field":"y2"}}},
{"data":{"name":"gy"},"transform":[{"calculate":"0.136","as":"x"},{"calculate":"1.319","as":"x2"}],"mark":{"type":"rule","color":"#ededed","strokeWidth":1.5},"encoding":{"x2":{"field":"x2"}}},
{"data":{"name":"pts"},"transform":[{"filter":"datum.p==7"}],"mark":"circle"},
{"data":{"name":"sm"},"transform":[{"filter":"datum.p==7"}],"mark":{"type":"area","color":"#999999","opacity":0.45,"interpolate":"monotone"},"encoding":{"y":{"field":"lo","type":"quantitative"},"y2":{"field":"hi"}}},
{"data":{"name":"sm"},"transform":[{"filter":"datum.p==7"}],"mark":{"type":"line","color":"#3366FF","strokeWidth":3,"interpolate":"monotone"}},
{"data":{"values":[{"x":1.31,"y":12.59,"t":"partial.cor = 0.069"},{"x":1.31,"y":11.79,"t":"p = 1.86e-01"}]},"mark":{"type":"text","align":"right","baseline":"middle","color":"#FF0000","fontSize":16.4},"encoding":{"text":{"field":"t"}}},
{"data":{"values":[{"x":0.136,"x2":1.319,"y":1.27,"y2":13.26}]},"mark":{"type":"rect","fillOpacity":0,"stroke":"#7f7f7f","strokeWidth":1.5},"encoding":{"x2":{"field":"x2"},"y2":{"field":"y2"}}},
{"data":{"values":[{"x":0.136,"x2":1.319,"y":13.26,"y2":14.56}]},"mark":{"type":"rect","color":"#d9d9d9","stroke":"#555555","strokeWidth":1.5},"encoding":{"x2":{"field":"x2"},"y2":{"field":"y2"}}},
{"data":{"values":[{"x":0.7275,"y":13.91,"t":"Dendritic Cell"}]},"mark":{"type":"text","fontSize":13,"color":"#222222"},"encoding":{"text":{"field":"t"}}}
]}
],"spacing":9,"bounds":"flush"},
{"width":1,"height":352,"data":{"values":[]},"mark":"rect"},
{"width":1788.6,"height":649,"encoding":{"y":{"field":"y","type":"quantitative","scale":{"domain":[-0.0227,0.6043],"nice":false,"zero":false},"axis":{"values":[0,0.1,0.2,0.3,0.4,0.5,0.6],"format":".1f","title":"Fraction","titleFontSize":26,"titleColor":"#000000","titlePadding":30,"labelFontSize":25,"labelColor":"#000000","tickColor":"#000000","tickSize":16,"tickWidth":2,"labelPadding":18,"offset":-2.6}},"x":{"field":"pos","type":"quantitative","scale":{"domain":[-0.0432,22.68],"nice":false,"zero":false},"axis":{"values":[1,2,3,4,5,6,7,8,9,10,11,12,13,14,15,16,17,18,19,20,21,22],"labelExpr":"['B cells naive','B cells memory','Plasma cells','T cells CD8','T cells CD4 naive','T cells CD4 memory resting','T cells CD4 memory activated','T cells follicular helper','T cells regulatory (Tregs)','T cells gamma delta','NK cells resting','NK cells activated','Monocytes','Macrophages M0','Macrophages M1','Macrophages M2','Dendritic cells resting','Dendritic cells activated','Mast cells resting','Mast cells activated','Eosinophils','Neutrophils'][datum.value-1]","labelAngle":-45,"labelAlign":"right","labelBaseline":"middle","labelFontSize":41,"labelColor":"#000000","tickSize":0,"labelPadding":20,"labelOffset":-4,"title":null}}},
"layer":[
{"data":{"values":[{"pos":-0.0102,"p2":22.68,"y":-0.0227,"y2":0.6043}]},"mark":{"type":"rect","fillOpacity":0,"stroke":"#000000","strokeWidth":2},"encoding":{"x2":{"field":"p2"},"y2":{"field":"y2"}}},
{"data":{"name":"vio"},"transform":[{"calculate":"datum.c+(datum.g=='h'?-0.166:0.166)","as":"ctr"},{"calculate":"datum.ctr-0.133*datum.w","as":"xl"},{"calculate":"datum.ctr+0.133*datum.w","as":"xr"},{"calculate":"datum.c+datum.g","as":"id"}],"mark":{"type":"area","orient":"horizontal","stroke":"#000000","strokeWidth":1.3,"interpolate":"monotone"},"encoding":{"x":{"field":"xl","type":"quantitative"},"x2":{"field":"xr"},"y":{"field":"f","type":"quantitative"},"detail":{"field":"id"},"color":{"field":"g","scale":{"domain":["h","l"],"range":["#FF0000","#0000FF"]},"legend":null}}},
{"data":{"name":"vs"},"transform":[{"calculate":"datum.c+(datum.g=='h'?-0.166:0.166)","as":"pos"}],"mark":{"type":"rule","color":"#000000","strokeWidth":3},"encoding":{"y":{"field":"q1","type":"quantitative"},"y2":{"field":"q3"}}},
{"data":{"name":"vs"},"transform":[{"calculate":"datum.c+(datum.g=='h'?-0.166:0.166)","as":"pos"}],"mark":{"type":"circle","color":"#FFFFFF","size":130,"opacity":1},"encoding":{"y":{"field":"m","type":"quantitative"}}},
{"data":{"name":"pv"},"transform":[{"calculate":"datum.c-0.108","as":"pos"},{"calculate":"datum.c+0.108","as":"p2"}],"mark":{"type":"rule","color":"#000000","strokeWidth":1.5},"encoding":{"y":{"field":"m","type":"quantitative"},"x2":{"field":"p2"}}},
{"data":{"name":"pv"},"transform":[{"calculate":"datum.c","as":"pos"}],"mark":{"type":"text","fontSize":26.6,"color":"#000000","dy":-24},"encoding":{"y":{"field":"m","type":"quantitative"},"text":{"field":"t"}}},
{"data":{"values":[{"pos":-0.0432,"y":0.6043,"t":"B"}]},"mark":{"type":"text","fontSize":63,"color":"#000000","align":"left","baseline":"top","dx":-163,"dy":-38},"encoding":{"text":{"field":"t"}}}
]},
{"width":1,"height":456,"data":{"values":[]},"mark":"rect"},
{"hconcat":[
{"vconcat":[
{"width":840,"height":163.4,"encoding":{"x":{"field":"a","type":"quantitative","scale":{"domain":[0,840],"nice":false,"zero":false},"axis":null},"y":{"field":"t","type":"ordinal","scale":{"domain":[1,2,3,4,5,6],"paddingInner":0.094,"paddingOuter":0},"axis":{"orient":"right","labelExpr":"['ajcc_pathologic_t','ajcc_pathologic_m','ajcc_pathologic_n','ajcc_pathologic_stage','gender','muc1'][datum.value-1]","labelFontSize":24.5,"labelFontWeight":"bold","labelColor":"#000000","tickSize":0,"labelPadding":4,"title":null,"labelAngle":0}}},
"layer":[
{"data":{"name":"ann"},"mark":{"type":"rect"},"encoding":{"x2":{"field":"b"},"fill":{"field":"c","type":"nominal","legend":null,"scale":{"domain":["T0","T1","T2","T3","T4","TX","M0","M1","MX","N0","N1","N2","N3","NX","stageI","stageII","stageIII","stageIV","unknow","female","male","high","low"],"range":["#6CB8FF","#FF7AE6","#00CFFF","#00D9E8","#FF9A5E","#8FCC00","#B3BF00","#AAAAFF","#00DCD2","#00DA8E","#FF80FF","#CDBB00","#FF88AE","#FBA61C","#55D035","#D99BFF","#F98EFF","#FF80C6","#00C4FF","#E6AF00","#00DAB5","#FF8E85","#00D96B"]}}}},
{"data":{"values":[{"a":0,"t":1,"l":"C"}]},"mark":{"type":"text","fontSize":63,"color":"#000000","align":"left","baseline":"top","dx":-159,"dy":-34},"encoding":{"text":{"field":"l"}}}
]},
{"width":840,"height":492.3,"data":{"name":"hm"},"mark":{"type":"rect"},"encoding":{"x":{"field":"a","type":"quantitative","scale":{"domain":[0,840],"nice":false,"zero":false},"axis":null},"x2":{"field":"b"},"y":{"field":"r","type":"ordinal","scale":{"domain":[1,2,3,4,5,6,7,8,9,10,11,12,13,14,15,16,17,18,19,20,21],"padding":0},"axis":{"orient":"right","labelExpr":"['B cells naive','B cells memory','Plasma cells','T cells CD8','T cells CD4 naive','T cells CD4 memory resting','T cells CD4 memory activated','T cells follicular helper','T cells regulatory (Tregs)','T cells gamma delta','NK cells resting','NK cells activated','Monocytes','Macrophages M0','Macrophages M1','Macrophages M2','Dendritic cells resting','Dendritic cells activated','Mast cells resting','Mast cells activated','Eosinophils'][datum.value-1]","labelFontSize":24.5,"labelColor":"#000000","tickSize":0,"labelPadding":4,"title":null,"labelAngle":0}},"fill":{"field":"v","type":"quantitative","scale":{"domain":[0,0.09,0.19,0.28,0.37,0.47,0.5627],"range":["#4575B4","#91BFDB","#E0F3F8","#FFFFBF","#FEE090","#FC8D59","#D73027"]},"legend":{"orient":"none","legendX":1185,"legendY":-168.2,"title":null,"values":[0,0.1,0.2,0.3,0.4,0.5],"format":"~g","gradientLength":206,"gradientThickness":14,"labelFontSize":24.6,"labelColor":"#000000","labelOffset":6,"gradientStrokeWidth":0,"encode":{"labels":{"update":{"baseline":{"value":"middle"}}}}}}}}
],"spacing":4.3,"bounds":"flush"},
{"width":535.5,"height":660,"encoding":{"x":{"field":"col","type":"quantitative","scale":{"domain":[1,3.0215],"nice":false,"zero":false},"axis":null},"y":{"field":"slot","type":"quantitative","scale":{"domain":[0,18.54],"reverse":true,"nice":false,"zero":false},"axis":null}},
"layer":[
{"data":{"name":"leg"},"transform":[{"calculate":"datum.col+0.1355","as":"col2"},{"calculate":"datum.slot+1","as":"slot2"}],"mark":{"type":"rect"},"encoding":{"x2":{"field":"col2"},"y2":{"field":"slot2"},"fill":{"field":"c","type":"nominal","legend":null,"scale":{"domain":["T0","T1","T2","T3","T4","TX","M0","M1","MX","N0","N1","N2","N3","NX","stageI","stageII","stageIII","stageIV","unknow","female","male","high","low"],"range":["#6CB8FF","#FF7AE6","#00CFFF","#00D9E8","#FF9A5E","#8FCC00","#B3BF00","#AAAAFF","#00DCD2","#00DA8E","#FF80FF","#CDBB00","#FF88AE","#FBA61C","#55D035","#D99BFF","#F98EFF","#FF80C6","#00C4FF","#E6AF00","#00DAB5","#FF8E85","#00D96B"]}}}},
{"data":{"name":"leg"},"transform":[{"calculate":"datum.slot+0.5","as":"sm"}],"mark":{"type":"text","align":"left","baseline":"middle","dx":43,"fontSize":24.6,"color":"#222222"},"encoding":{"y":{"field":"sm","type":"quantitative"},"text":{"field":"c"}}},
{"data":{"name":"lt"},"mark":{"type":"text","align":"left","baseline":"middle","fontSize":24.5,"fontWeight":"bold","color":"#000000"},"encoding":{"text":{"field":"t"}}}
]}
],"spacing":1257.1,"bounds":"flush"}
]}
